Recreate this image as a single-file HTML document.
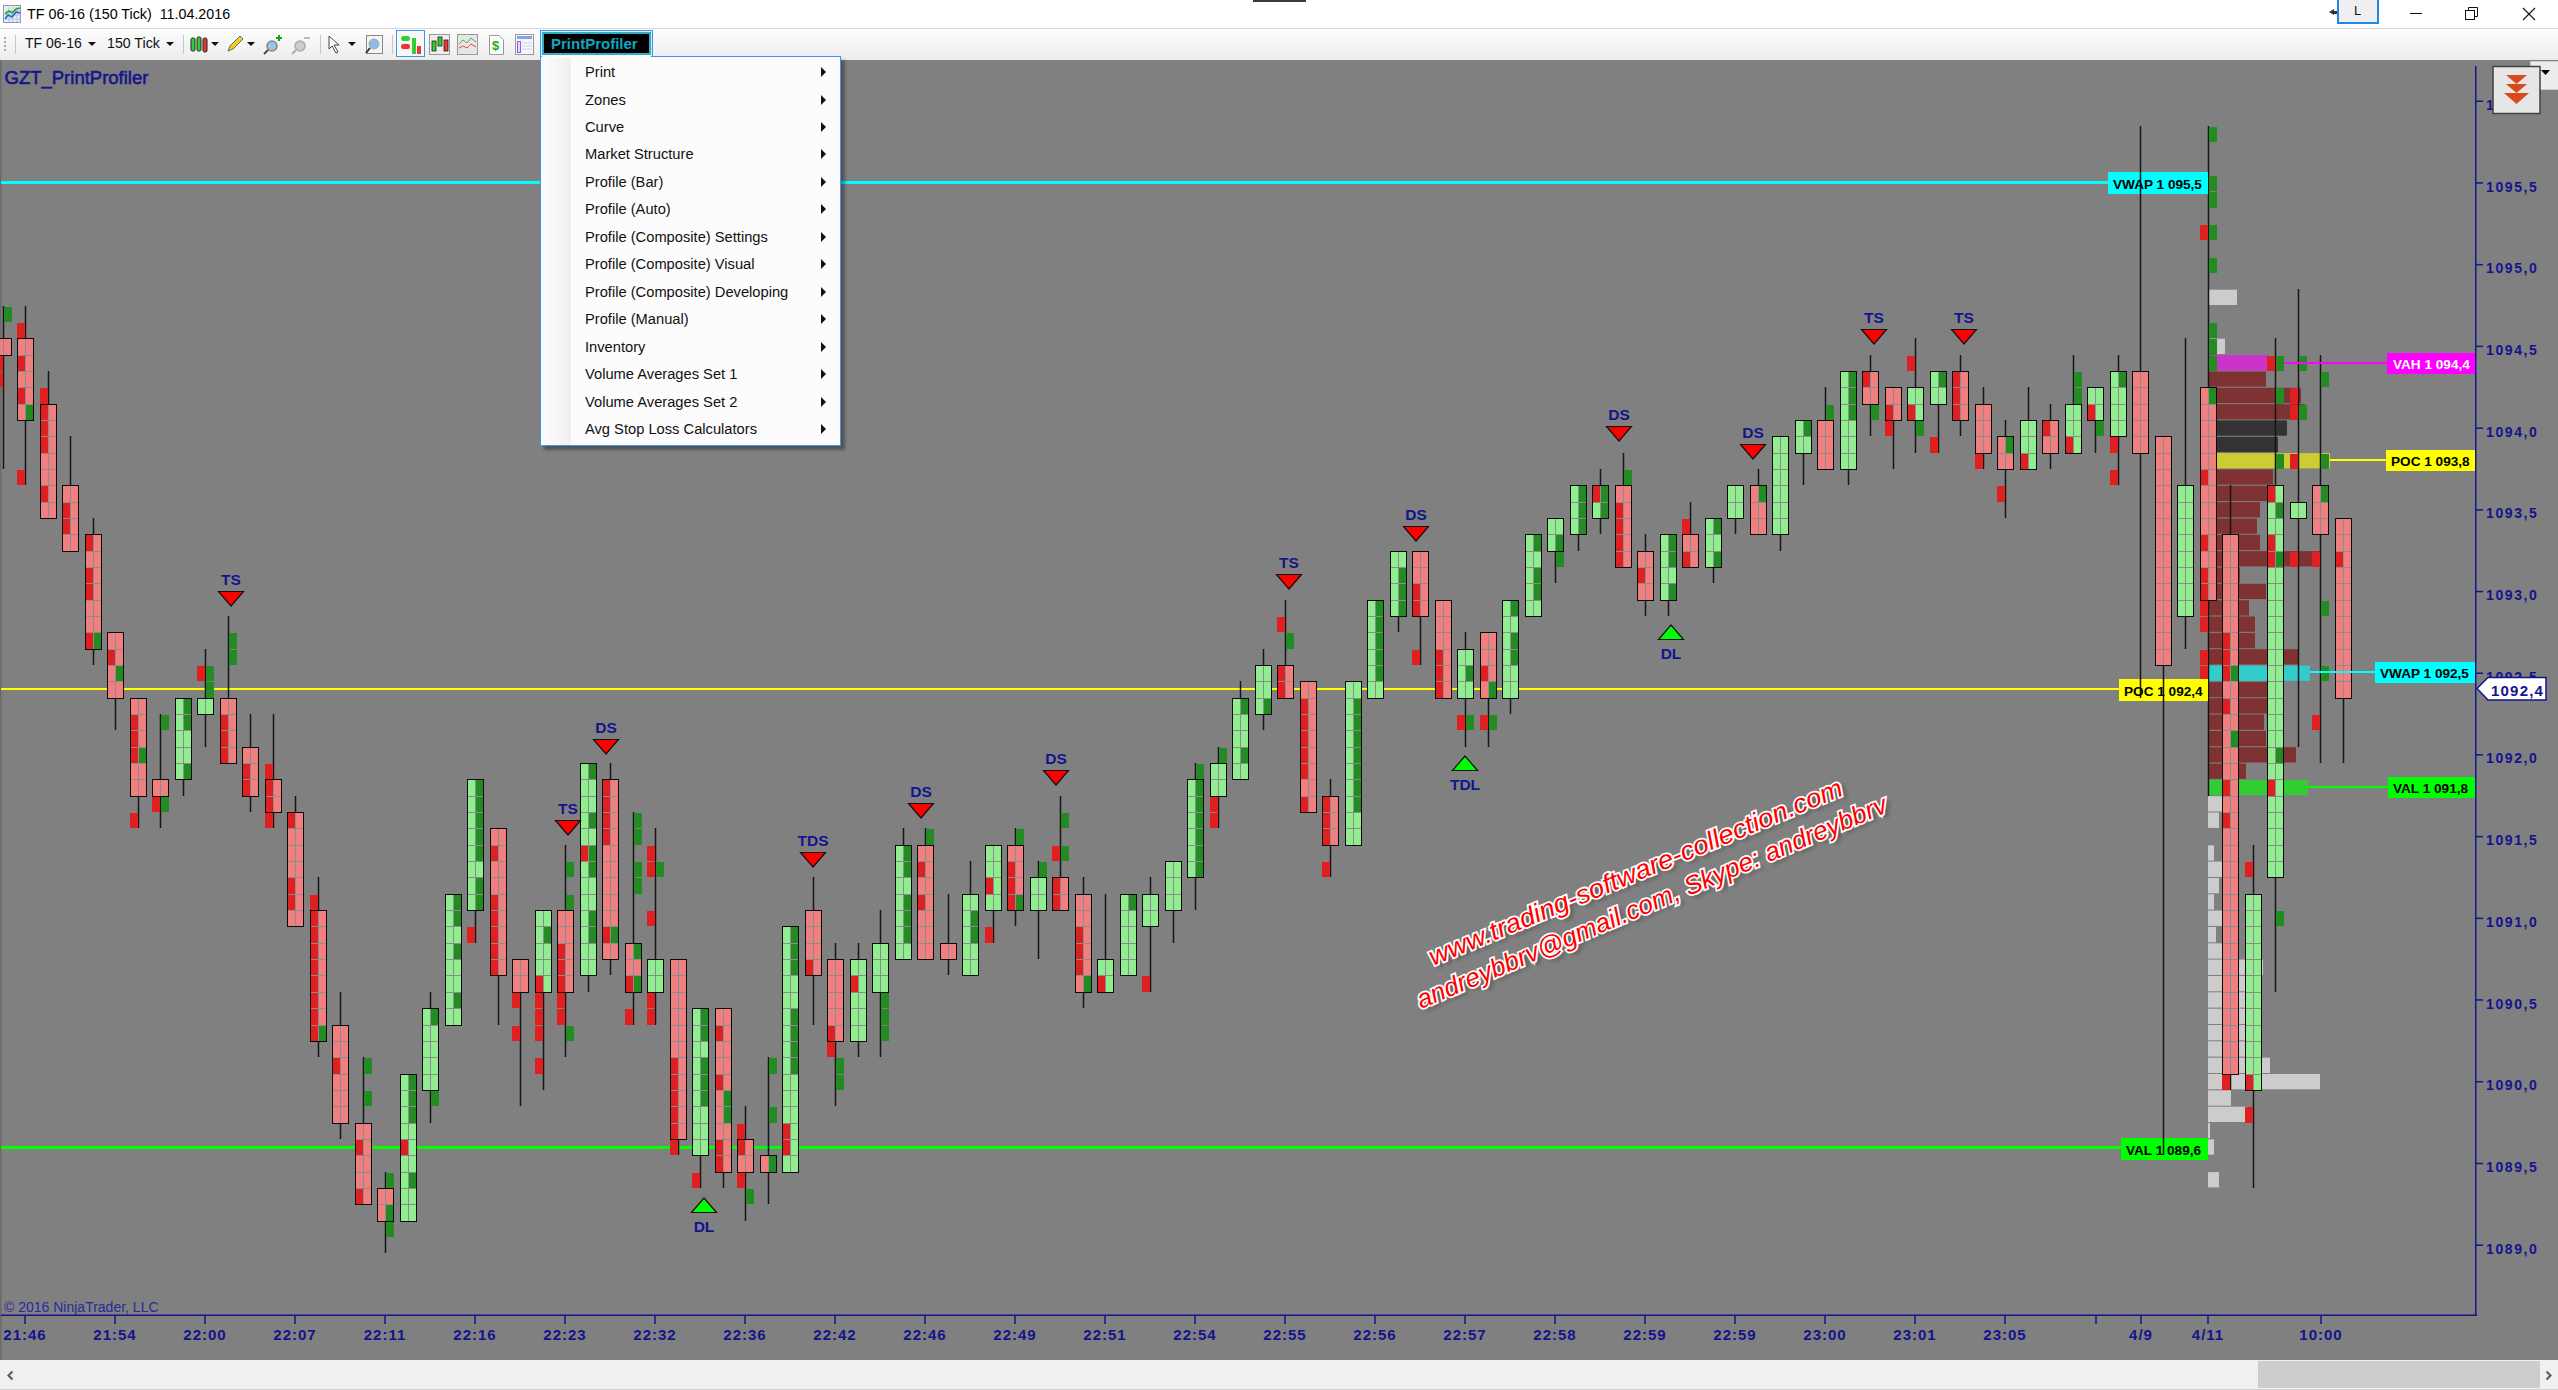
<!DOCTYPE html>
<html><head><meta charset="utf-8"><style>
*{margin:0;padding:0;box-sizing:border-box}
html,body{width:2558px;height:1390px;overflow:hidden;background:#fff;font-family:"Liberation Sans",sans-serif}
.abs{position:absolute}
#title{left:0;top:0;width:2558px;height:29px;background:#fff;border-bottom:1px solid #d6d6d6}
#tb{left:0;top:29px;width:2558px;height:31px;background:linear-gradient(#fdfdfd,#ececec)}
#chart{left:0;top:60px;width:2558px;height:1300px;background:#808080}
#sb{left:0;top:1360px;width:2558px;height:30px;background:#f0f0f0;border-bottom:1px solid #d0d0d0}
.mk{font:bold 15.5px "Liberation Sans",sans-serif;fill:#14148c}
.pl{font:bold 14px "Liberation Sans",sans-serif;fill:#14148c;letter-spacing:1.6px}
.tl{font:bold 15px "Liberation Sans",sans-serif;fill:#14148c;letter-spacing:1px}
.lb{font:bold 13.6px "Liberation Sans",sans-serif}
#menu{left:540px;top:56px;width:301px;height:390px;background:#fcfcfc;border:1.5px solid #3c96f0;box-shadow:4px 4px 3px rgba(0,0,0,0.35)}
#gut{left:0;top:0;width:30px;height:100%;background:linear-gradient(90deg,#fdfdfd,#efefef)}
.mi{position:absolute;left:44px;font-size:14.7px;line-height:20px;color:#111;white-space:nowrap}
.ar{position:absolute;left:280px;width:0;height:0;border-top:5px solid transparent;border-bottom:5px solid transparent;border-left:5px solid #111}
</style></head><body>
<div id="title" class="abs">
 <svg class="abs" style="left:3px;top:5px" width="19" height="19" viewBox="0 0 19 19"><rect x="0.5" y="0.5" width="17" height="17" fill="#e8ecf4" stroke="#8a9ab8"/><path d="M2 6h15M2 10h15M2 14h15M6 2v15M10 2v15M14 2v15" stroke="#b8c4dc" stroke-width="1"/><path d="M2 9 L6 6 L9 8 L13 4 L17 3" stroke="#22aa22" stroke-width="1.6" fill="none"/><path d="M2 14 L5 10 L9 12 L13 7 L17 8" stroke="#2266cc" stroke-width="1.6" fill="none"/></svg>
 <div class="abs" style="left:27px;top:5px;font-size:14.3px;line-height:18px;color:#000;white-space:pre" id="ttxt">TF 06-16 (150 Tick)  11.04.2016</div>
 <div class="abs" style="left:1253px;top:0;width:53px;height:2px;background:#3a3a3a"></div>
 <div class="abs" style="left:2329px;top:9px;width:0;height:0;border-top:3.5px solid transparent;border-bottom:3.5px solid transparent;border-right:5px solid #333"></div>
 <div class="abs" style="left:2333px;top:11px;width:4px;height:3px;background:#333"></div>
 <div class="abs" style="left:2337px;top:0;width:42px;height:24px;border:2px solid #1e88e5;border-top:none;background:#efefef"></div>
 <div class="abs" style="left:2354px;top:3px;font-size:13px;line-height:15px;color:#111">L</div>
 <div class="abs" style="left:2410px;top:13px;width:12px;height:1px;background:#111"></div>
 <svg class="abs" style="left:2465px;top:7px" width="14" height="14"><rect x="0.5" y="3.5" width="9" height="9" fill="none" stroke="#111"/><path d="M3.5 3.5 V0.5 H12.5 V9.5 H9.5" fill="none" stroke="#111"/></svg>
 <svg class="abs" style="left:2522px;top:7px" width="14" height="14"><path d="M1 1 L13 13 M13 1 L1 13" stroke="#111" stroke-width="1.1"/></svg>
</div>
<div id="tb" class="abs">
 <div class="abs" style="left:4px;top:8px;width:2px;height:16px;background:repeating-linear-gradient(#aaa 0 2px,transparent 2px 4px)"></div>
 <div class="abs" style="left:15px;top:6px;width:1px;height:19px;background:#c8c8c8"></div>
 <div class="abs" style="left:25px;top:5px;font-size:14px;line-height:18px;color:#111;white-space:nowrap">TF 06-16</div>
 <div class="abs" style="left:88px;top:13px;border-left:4px solid transparent;border-right:4px solid transparent;border-top:4px solid #111"></div>
 <div class="abs" style="left:107px;top:5px;font-size:14.2px;line-height:18px;color:#111;white-space:nowrap">150 Tick</div>
 <div class="abs" style="left:166px;top:13px;border-left:4px solid transparent;border-right:4px solid transparent;border-top:4px solid #111"></div>
 <div class="abs" style="left:183px;top:6px;width:1px;height:19px;background:#c8c8c8"></div>
 <svg class="abs" style="left:189px;top:5px" width="22" height="22"><rect x="2" y="4" width="4" height="13" rx="1.5" fill="#3c3" stroke="#222"/><rect x="8" y="3" width="4" height="14" rx="1.5" fill="#3c3" stroke="#222"/><rect x="14" y="4" width="4" height="14" rx="1.5" fill="#e33" stroke="#222"/></svg>
 <div class="abs" style="left:211px;top:13px;border-left:4px solid transparent;border-right:4px solid transparent;border-top:4px solid #111"></div>
 <svg class="abs" style="left:225px;top:5px" width="20" height="20"><path d="M3 17 L5 12 L15 2 L18 5 L8 15 Z" fill="#f0d020" stroke="#666"/></svg>
 <div class="abs" style="left:247px;top:13px;border-left:4px solid transparent;border-right:4px solid transparent;border-top:4px solid #111"></div>
 <svg class="abs" style="left:262px;top:5px" width="22" height="22"><circle cx="10" cy="12" r="5" fill="#9cc4e8" stroke="#888" stroke-width="1.5"/><path d="M6 16 L2 20" stroke="#444" stroke-width="2"/><path d="M14 4h6M17 1v6" stroke="#1a1" stroke-width="2"/></svg>
 <svg class="abs" style="left:290px;top:5px" width="22" height="22"><circle cx="10" cy="12" r="5" fill="#ccc" stroke="#aaa" stroke-width="1.5"/><path d="M6 16 L2 20" stroke="#aaa" stroke-width="2"/><path d="M14 4h6" stroke="#bbb" stroke-width="2"/></svg>
 <div class="abs" style="left:320px;top:6px;width:1px;height:19px;background:#c8c8c8"></div>
 <svg class="abs" style="left:327px;top:5px" width="20" height="22"><path d="M2 2 L2 15 L5 12 L9 19 L11 18 L7 11 L12 11 Z" fill="#fff" stroke="#444"/></svg>
 <div class="abs" style="left:348px;top:13px;border-left:4px solid transparent;border-right:4px solid transparent;border-top:4px solid #111"></div>
 <svg class="abs" style="left:364px;top:5px" width="20" height="22"><rect x="2.5" y="1.5" width="16" height="18" fill="#f4f4f4" stroke="#888"/><circle cx="10" cy="10" r="5" fill="#8cbce8" stroke="#aaa"/><path d="M6 14 L2 19" stroke="#333" stroke-width="2"/></svg>
 <div class="abs" style="left:392px;top:6px;width:1px;height:19px;background:#c8c8c8"></div>
 <div class="abs" style="left:396px;top:1px;width:29px;height:27px;border:1.5px solid #3c96f0;background:#f8f8f8"></div>
 <svg class="abs" style="left:399px;top:5px" width="24" height="22"><path d="M2 5h12M2 10h16M2 15h16" stroke="#ddd"/><rect x="2" y="2" width="9" height="5" rx="2.5" fill="#3c3"/><rect x="2" y="10" width="9" height="5" rx="2.5" fill="#e33"/><rect x="13" y="4" width="4" height="16" fill="#3c3"/><rect x="18" y="12" width="4" height="8" fill="#e33"/></svg>
 <svg class="abs" style="left:429px;top:5px" width="22" height="22"><rect x="0.5" y="0.5" width="20" height="20" fill="#eee" stroke="#999"/><rect x="3" y="7" width="4" height="10" fill="#3c3" stroke="#222" stroke-width="0.8"/><rect x="9" y="3" width="4" height="9" fill="#3c3" stroke="#222" stroke-width="0.8"/><rect x="15" y="6" width="4" height="11" fill="#e33" stroke="#222" stroke-width="0.8"/></svg>
 <svg class="abs" style="left:457px;top:5px" width="22" height="22"><rect x="0.5" y="0.5" width="20" height="20" fill="#e6e6e6" stroke="#999"/><path d="M2 10 L6 6 L10 9 L14 4 L19 8" stroke="#4b4" fill="none"/><path d="M2 14 L6 12 L10 14 L14 10 L19 13" stroke="#e44" fill="none"/></svg>
 <svg class="abs" style="left:488px;top:5px" width="18" height="22"><path d="M1.5 1.5 H11 L15.5 6 V20.5 H1.5 Z" fill="#fff" stroke="#999"/><text x="4" y="16" font-size="13" font-weight="bold" fill="#2a2" font-family="Liberation Sans">$</text></svg>
 <svg class="abs" style="left:515px;top:5px" width="20" height="22"><rect x="0.5" y="0.5" width="18" height="20" fill="#f4f6fa" stroke="#999"/><rect x="2" y="2" width="15" height="3" fill="#7aa8e8"/><rect x="2.5" y="7.5" width="3" height="11" fill="#e8d8ff" stroke="#9060e0"/><path d="M7 9h10M7 12h10M7 15h10" stroke="#cdd"/></svg>
 <div class="abs" style="left:540px;top:1px;width:113px;height:28px;border:1.5px solid #3c96f0;border-bottom:none;background:#f8f8f8"></div>
 <div class="abs" style="left:544px;top:5px;width:105px;height:19px;background:#000;box-shadow:0 0 1px 2px rgba(16,160,190,0.85)"></div>
 <div class="abs" style="left:551px;top:5px;font-size:15px;line-height:19px;font-weight:bold;color:#12a6c0;white-space:nowrap">PrintProfiler</div>
</div>
<div id="chart" class="abs"></div>
<svg class="abs" style="left:0;top:0" width="2558" height="1390">
 <rect x="0" y="60" width="1.5" height="1300" fill="#6a6a6a"/>
 <rect x="1" y="181" width="2107" height="3" fill="#00ffff"/>
 <rect x="1" y="688" width="2118" height="2" fill="#ffff00"/>
 <rect x="1" y="1146" width="2120" height="3" fill="#00ff00"/>
 <rect x="2208" y="289.7" width="29" height="15.3" fill="#cccccc"/><rect x="2208" y="338.7" width="17" height="15.3" fill="#cccccc"/><rect x="2208" y="355.1" width="60" height="15.3" fill="#cc33cc"/><rect x="2208" y="371.4" width="58" height="15.3" fill="#7f3232"/><rect x="2208" y="387.8" width="93" height="15.3" fill="#7f3232"/><rect x="2208" y="404.1" width="97" height="15.3" fill="#7f3232"/><rect x="2208" y="420.4" width="79" height="15.3" fill="#333333"/><rect x="2208" y="436.8" width="70" height="15.3" fill="#333333"/><rect x="2208" y="453.1" width="122" height="15.3" fill="#cccc33"/><rect x="2208" y="469.4" width="65" height="15.3" fill="#7f3232"/><rect x="2208" y="485.8" width="61" height="15.3" fill="#7f3232"/><rect x="2208" y="502.1" width="52" height="15.3" fill="#7f3232"/><rect x="2208" y="518.5" width="49" height="15.3" fill="#7f3232"/><rect x="2208" y="534.8" width="52" height="15.3" fill="#7f3232"/><rect x="2208" y="551.1" width="112" height="15.3" fill="#7f3232"/><rect x="2208" y="567.5" width="32" height="15.3" fill="#7f3232"/><rect x="2208" y="583.8" width="58" height="15.3" fill="#7f3232"/><rect x="2208" y="600.2" width="41" height="15.3" fill="#7f3232"/><rect x="2208" y="616.5" width="47" height="15.3" fill="#7f3232"/><rect x="2208" y="632.9" width="47" height="15.3" fill="#7f3232"/><rect x="2208" y="649.2" width="90" height="15.3" fill="#7f3232"/><rect x="2208" y="665.5" width="102" height="15.3" fill="#33cccc"/><rect x="2208" y="681.9" width="60" height="15.3" fill="#7f3232"/><rect x="2208" y="698.2" width="60" height="15.3" fill="#7f3232"/><rect x="2208" y="714.5" width="56" height="15.3" fill="#7f3232"/><rect x="2208" y="730.9" width="58" height="15.3" fill="#7f3232"/><rect x="2208" y="747.2" width="88" height="15.3" fill="#7f3232"/><rect x="2208" y="763.6" width="38" height="15.3" fill="#7f3232"/><rect x="2208" y="779.9" width="100" height="15.3" fill="#33cc33"/><rect x="2208" y="796.2" width="14" height="15.3" fill="#cccccc"/><rect x="2208" y="812.6" width="11" height="15.3" fill="#cccccc"/><rect x="2208" y="845.3" width="6" height="15.3" fill="#cccccc"/><rect x="2208" y="861.6" width="14" height="15.3" fill="#cccccc"/><rect x="2208" y="878.0" width="11" height="15.3" fill="#cccccc"/><rect x="2208" y="894.3" width="6" height="15.3" fill="#cccccc"/><rect x="2208" y="910.6" width="31" height="15.3" fill="#cccccc"/><rect x="2208" y="927.0" width="8" height="15.3" fill="#cccccc"/><rect x="2208" y="943.3" width="14" height="15.3" fill="#cccccc"/><rect x="2208" y="959.6" width="55" height="15.3" fill="#cccccc"/><rect x="2208" y="976.0" width="37" height="15.3" fill="#cccccc"/><rect x="2208" y="992.3" width="37" height="15.3" fill="#cccccc"/><rect x="2208" y="1008.7" width="37" height="15.3" fill="#cccccc"/><rect x="2208" y="1025.0" width="37" height="15.3" fill="#cccccc"/><rect x="2208" y="1041.3" width="37" height="15.3" fill="#cccccc"/><rect x="2208" y="1057.7" width="62" height="15.3" fill="#cccccc"/><rect x="2208" y="1074.0" width="112" height="15.3" fill="#cccccc"/><rect x="2208" y="1090.4" width="23" height="15.3" fill="#cccccc"/><rect x="2208" y="1106.7" width="40" height="15.3" fill="#cccccc"/><rect x="2208" y="1123.0" width="2" height="15.3" fill="#cccccc"/><rect x="2208" y="1139.4" width="6" height="15.3" fill="#cccccc"/><rect x="2208" y="1172.1" width="11" height="15.3" fill="#cccccc"/><rect x="2.75" y="306" width="1.5" height="163" fill="#151515"/><rect x="-4.5" y="338.5" width="16" height="17" fill="#8c8c8c" stroke="#0a0a0a" stroke-width="1"/><rect x="-4" y="339" width="7" height="16" fill="#f08080"/><rect x="4" y="339" width="7" height="16" fill="#f08080"/><rect x="4" y="307" width="8" height="15" fill="#228b22"/><rect x="-5" y="356" width="8" height="15" fill="#e02020"/><rect x="-5" y="372" width="8" height="15" fill="#e02020"/><rect x="24.75" y="306" width="1.5" height="179" fill="#151515"/><rect x="17.5" y="338.5" width="16" height="82" fill="#8c8c8c" stroke="#0a0a0a" stroke-width="1"/><rect x="18" y="339" width="7" height="16" fill="#f08080"/><rect x="26" y="339" width="7" height="16" fill="#f08080"/><rect x="18" y="356" width="7" height="15" fill="#e02020"/><rect x="26" y="356" width="7" height="15" fill="#f08080"/><rect x="18" y="372" width="7" height="15" fill="#f08080"/><rect x="26" y="372" width="7" height="15" fill="#f08080"/><rect x="18" y="388" width="7" height="16" fill="#e02020"/><rect x="26" y="388" width="7" height="16" fill="#f08080"/><rect x="18" y="405" width="7" height="15" fill="#f08080"/><rect x="26" y="405" width="7" height="15" fill="#228b22"/><rect x="17" y="323" width="8" height="15" fill="#e02020"/><rect x="17" y="470" width="8" height="15" fill="#e02020"/><rect x="47.75" y="371" width="1.5" height="147" fill="#151515"/><rect x="40.5" y="404.5" width="16" height="114" fill="#8c8c8c" stroke="#0a0a0a" stroke-width="1"/><rect x="41" y="405" width="7" height="15" fill="#e02020"/><rect x="49" y="405" width="7" height="15" fill="#f08080"/><rect x="41" y="421" width="7" height="15" fill="#e02020"/><rect x="49" y="421" width="7" height="15" fill="#f08080"/><rect x="41" y="437" width="7" height="16" fill="#e02020"/><rect x="49" y="437" width="7" height="16" fill="#f08080"/><rect x="41" y="454" width="7" height="15" fill="#f08080"/><rect x="49" y="454" width="7" height="15" fill="#f08080"/><rect x="41" y="470" width="7" height="15" fill="#f08080"/><rect x="49" y="470" width="7" height="15" fill="#f08080"/><rect x="41" y="486" width="7" height="16" fill="#e02020"/><rect x="49" y="486" width="7" height="16" fill="#f08080"/><rect x="41" y="503" width="7" height="15" fill="#f08080"/><rect x="49" y="503" width="7" height="15" fill="#f08080"/><rect x="40" y="388" width="8" height="16" fill="#e02020"/><rect x="69.75" y="436" width="1.5" height="115" fill="#151515"/><rect x="62.5" y="485.5" width="16" height="66" fill="#8c8c8c" stroke="#0a0a0a" stroke-width="1"/><rect x="63" y="486" width="7" height="16" fill="#f08080"/><rect x="71" y="486" width="7" height="16" fill="#f08080"/><rect x="63" y="503" width="7" height="15" fill="#e02020"/><rect x="71" y="503" width="7" height="15" fill="#f08080"/><rect x="63" y="519" width="7" height="15" fill="#e02020"/><rect x="71" y="519" width="7" height="15" fill="#f08080"/><rect x="63" y="535" width="7" height="16" fill="#f08080"/><rect x="71" y="535" width="7" height="16" fill="#f08080"/><rect x="92.75" y="518" width="1.5" height="147" fill="#151515"/><rect x="85.5" y="534.5" width="16" height="115" fill="#8c8c8c" stroke="#0a0a0a" stroke-width="1"/><rect x="86" y="535" width="7" height="16" fill="#e02020"/><rect x="94" y="535" width="7" height="16" fill="#f08080"/><rect x="86" y="552" width="7" height="15" fill="#f08080"/><rect x="94" y="552" width="7" height="15" fill="#f08080"/><rect x="86" y="568" width="7" height="15" fill="#e02020"/><rect x="94" y="568" width="7" height="15" fill="#f08080"/><rect x="86" y="584" width="7" height="16" fill="#e02020"/><rect x="94" y="584" width="7" height="16" fill="#f08080"/><rect x="86" y="601" width="7" height="15" fill="#f08080"/><rect x="94" y="601" width="7" height="15" fill="#f08080"/><rect x="86" y="617" width="7" height="15" fill="#f08080"/><rect x="94" y="617" width="7" height="15" fill="#f08080"/><rect x="86" y="633" width="7" height="16" fill="#e02020"/><rect x="94" y="633" width="7" height="16" fill="#228b22"/><rect x="114.75" y="632" width="1.5" height="98" fill="#151515"/><rect x="107.5" y="632.5" width="16" height="66" fill="#8c8c8c" stroke="#0a0a0a" stroke-width="1"/><rect x="108" y="633" width="7" height="16" fill="#f08080"/><rect x="116" y="633" width="7" height="16" fill="#f08080"/><rect x="108" y="650" width="7" height="15" fill="#e02020"/><rect x="116" y="650" width="7" height="15" fill="#f08080"/><rect x="108" y="666" width="7" height="15" fill="#f08080"/><rect x="116" y="666" width="7" height="15" fill="#228b22"/><rect x="108" y="682" width="7" height="16" fill="#f08080"/><rect x="116" y="682" width="7" height="16" fill="#f08080"/><rect x="137.75" y="698" width="1.5" height="130" fill="#151515"/><rect x="130.5" y="698.5" width="16" height="98" fill="#8c8c8c" stroke="#0a0a0a" stroke-width="1"/><rect x="131" y="699" width="7" height="15" fill="#f08080"/><rect x="139" y="699" width="7" height="15" fill="#f08080"/><rect x="131" y="715" width="7" height="15" fill="#e02020"/><rect x="139" y="715" width="7" height="15" fill="#f08080"/><rect x="131" y="731" width="7" height="16" fill="#e02020"/><rect x="139" y="731" width="7" height="16" fill="#f08080"/><rect x="131" y="748" width="7" height="15" fill="#e02020"/><rect x="139" y="748" width="7" height="15" fill="#228b22"/><rect x="131" y="764" width="7" height="15" fill="#f08080"/><rect x="139" y="764" width="7" height="15" fill="#f08080"/><rect x="131" y="780" width="7" height="16" fill="#f08080"/><rect x="139" y="780" width="7" height="16" fill="#f08080"/><rect x="130" y="813" width="8" height="15" fill="#e02020"/><rect x="159.75" y="714" width="1.5" height="114" fill="#151515"/><rect x="152.5" y="779.5" width="16" height="17" fill="#8c8c8c" stroke="#0a0a0a" stroke-width="1"/><rect x="153" y="780" width="7" height="16" fill="#f08080"/><rect x="161" y="780" width="7" height="16" fill="#f08080"/><rect x="161" y="715" width="8" height="15" fill="#228b22"/><rect x="152" y="797" width="8" height="15" fill="#e02020"/><rect x="161" y="797" width="8" height="15" fill="#228b22"/><rect x="182.75" y="698" width="1.5" height="98" fill="#151515"/><rect x="175.5" y="698.5" width="16" height="81" fill="#8c8c8c" stroke="#0a0a0a" stroke-width="1"/><rect x="176" y="699" width="7" height="15" fill="#90ee90"/><rect x="184" y="699" width="7" height="15" fill="#228b22"/><rect x="176" y="715" width="7" height="15" fill="#90ee90"/><rect x="184" y="715" width="7" height="15" fill="#228b22"/><rect x="176" y="731" width="7" height="16" fill="#90ee90"/><rect x="184" y="731" width="7" height="16" fill="#90ee90"/><rect x="176" y="748" width="7" height="15" fill="#90ee90"/><rect x="184" y="748" width="7" height="15" fill="#90ee90"/><rect x="176" y="764" width="7" height="15" fill="#90ee90"/><rect x="184" y="764" width="7" height="15" fill="#228b22"/><rect x="204.75" y="649" width="1.5" height="98" fill="#151515"/><rect x="197.5" y="698.5" width="16" height="16" fill="#8c8c8c" stroke="#0a0a0a" stroke-width="1"/><rect x="198" y="699" width="7" height="15" fill="#90ee90"/><rect x="206" y="699" width="7" height="15" fill="#90ee90"/><rect x="197" y="666" width="8" height="15" fill="#e02020"/><rect x="206" y="666" width="8" height="15" fill="#228b22"/><rect x="206" y="682" width="8" height="16" fill="#228b22"/><rect x="227.75" y="616" width="1.5" height="147" fill="#151515"/><rect x="220.5" y="698.5" width="16" height="65" fill="#8c8c8c" stroke="#0a0a0a" stroke-width="1"/><rect x="221" y="699" width="7" height="15" fill="#f08080"/><rect x="229" y="699" width="7" height="15" fill="#f08080"/><rect x="221" y="715" width="7" height="15" fill="#e02020"/><rect x="229" y="715" width="7" height="15" fill="#f08080"/><rect x="221" y="731" width="7" height="16" fill="#e02020"/><rect x="229" y="731" width="7" height="16" fill="#f08080"/><rect x="221" y="748" width="7" height="15" fill="#e02020"/><rect x="229" y="748" width="7" height="15" fill="#f08080"/><rect x="229" y="633" width="8" height="16" fill="#228b22"/><rect x="229" y="650" width="8" height="15" fill="#228b22"/><rect x="249.75" y="714" width="1.5" height="98" fill="#151515"/><rect x="242.5" y="747.5" width="16" height="49" fill="#8c8c8c" stroke="#0a0a0a" stroke-width="1"/><rect x="243" y="748" width="7" height="15" fill="#f08080"/><rect x="251" y="748" width="7" height="15" fill="#f08080"/><rect x="243" y="764" width="7" height="15" fill="#e02020"/><rect x="251" y="764" width="7" height="15" fill="#f08080"/><rect x="243" y="780" width="7" height="16" fill="#e02020"/><rect x="251" y="780" width="7" height="16" fill="#f08080"/><rect x="272.75" y="714" width="1.5" height="114" fill="#151515"/><rect x="265.5" y="779.5" width="16" height="33" fill="#8c8c8c" stroke="#0a0a0a" stroke-width="1"/><rect x="266" y="780" width="7" height="16" fill="#e02020"/><rect x="274" y="780" width="7" height="16" fill="#f08080"/><rect x="266" y="797" width="7" height="15" fill="#e02020"/><rect x="274" y="797" width="7" height="15" fill="#f08080"/><rect x="265" y="764" width="8" height="15" fill="#e02020"/><rect x="265" y="813" width="8" height="15" fill="#e02020"/><rect x="294.75" y="796" width="1.5" height="130" fill="#151515"/><rect x="287.5" y="812.5" width="16" height="114" fill="#8c8c8c" stroke="#0a0a0a" stroke-width="1"/><rect x="288" y="813" width="7" height="15" fill="#e02020"/><rect x="296" y="813" width="7" height="15" fill="#f08080"/><rect x="288" y="829" width="7" height="16" fill="#f08080"/><rect x="296" y="829" width="7" height="16" fill="#f08080"/><rect x="288" y="846" width="7" height="15" fill="#f08080"/><rect x="296" y="846" width="7" height="15" fill="#f08080"/><rect x="288" y="862" width="7" height="15" fill="#f08080"/><rect x="296" y="862" width="7" height="15" fill="#f08080"/><rect x="288" y="878" width="7" height="16" fill="#e02020"/><rect x="296" y="878" width="7" height="16" fill="#f08080"/><rect x="288" y="895" width="7" height="15" fill="#e02020"/><rect x="296" y="895" width="7" height="15" fill="#f08080"/><rect x="288" y="911" width="7" height="15" fill="#f08080"/><rect x="296" y="911" width="7" height="15" fill="#f08080"/><rect x="317.75" y="877" width="1.5" height="180" fill="#151515"/><rect x="310.5" y="910.5" width="16" height="131" fill="#8c8c8c" stroke="#0a0a0a" stroke-width="1"/><rect x="311" y="911" width="7" height="15" fill="#e02020"/><rect x="319" y="911" width="7" height="15" fill="#f08080"/><rect x="311" y="927" width="7" height="16" fill="#e02020"/><rect x="319" y="927" width="7" height="16" fill="#f08080"/><rect x="311" y="944" width="7" height="15" fill="#e02020"/><rect x="319" y="944" width="7" height="15" fill="#f08080"/><rect x="311" y="960" width="7" height="15" fill="#e02020"/><rect x="319" y="960" width="7" height="15" fill="#f08080"/><rect x="311" y="976" width="7" height="16" fill="#e02020"/><rect x="319" y="976" width="7" height="16" fill="#f08080"/><rect x="311" y="993" width="7" height="15" fill="#e02020"/><rect x="319" y="993" width="7" height="15" fill="#f08080"/><rect x="311" y="1009" width="7" height="16" fill="#e02020"/><rect x="319" y="1009" width="7" height="16" fill="#f08080"/><rect x="311" y="1026" width="7" height="15" fill="#e02020"/><rect x="319" y="1026" width="7" height="15" fill="#228b22"/><rect x="310" y="895" width="8" height="15" fill="#e02020"/><rect x="339.75" y="992" width="1.5" height="147" fill="#151515"/><rect x="332.5" y="1025.5" width="16" height="98" fill="#8c8c8c" stroke="#0a0a0a" stroke-width="1"/><rect x="333" y="1026" width="7" height="15" fill="#f08080"/><rect x="341" y="1026" width="7" height="15" fill="#f08080"/><rect x="333" y="1042" width="7" height="15" fill="#f08080"/><rect x="341" y="1042" width="7" height="15" fill="#f08080"/><rect x="333" y="1058" width="7" height="16" fill="#e02020"/><rect x="341" y="1058" width="7" height="16" fill="#f08080"/><rect x="333" y="1075" width="7" height="15" fill="#f08080"/><rect x="341" y="1075" width="7" height="15" fill="#f08080"/><rect x="333" y="1091" width="7" height="15" fill="#f08080"/><rect x="341" y="1091" width="7" height="15" fill="#f08080"/><rect x="333" y="1107" width="7" height="16" fill="#f08080"/><rect x="341" y="1107" width="7" height="16" fill="#f08080"/><rect x="362.75" y="1057" width="1.5" height="147" fill="#151515"/><rect x="355.5" y="1123.5" width="16" height="81" fill="#8c8c8c" stroke="#0a0a0a" stroke-width="1"/><rect x="356" y="1124" width="7" height="15" fill="#f08080"/><rect x="364" y="1124" width="7" height="15" fill="#f08080"/><rect x="356" y="1140" width="7" height="15" fill="#e02020"/><rect x="364" y="1140" width="7" height="15" fill="#f08080"/><rect x="356" y="1156" width="7" height="16" fill="#f08080"/><rect x="364" y="1156" width="7" height="16" fill="#f08080"/><rect x="356" y="1173" width="7" height="15" fill="#f08080"/><rect x="364" y="1173" width="7" height="15" fill="#f08080"/><rect x="356" y="1189" width="7" height="15" fill="#e02020"/><rect x="364" y="1189" width="7" height="15" fill="#f08080"/><rect x="364" y="1058" width="8" height="16" fill="#228b22"/><rect x="364" y="1091" width="8" height="15" fill="#228b22"/><rect x="384.75" y="1172" width="1.5" height="81" fill="#151515"/><rect x="377.5" y="1188.5" width="16" height="33" fill="#8c8c8c" stroke="#0a0a0a" stroke-width="1"/><rect x="378" y="1189" width="7" height="15" fill="#f08080"/><rect x="386" y="1189" width="7" height="15" fill="#f08080"/><rect x="378" y="1205" width="7" height="16" fill="#f08080"/><rect x="386" y="1205" width="7" height="16" fill="#228b22"/><rect x="386" y="1173" width="8" height="15" fill="#228b22"/><rect x="386" y="1222" width="8" height="15" fill="#228b22"/><rect x="407.75" y="1074" width="1.5" height="147" fill="#151515"/><rect x="400.5" y="1074.5" width="16" height="147" fill="#8c8c8c" stroke="#0a0a0a" stroke-width="1"/><rect x="401" y="1075" width="7" height="15" fill="#90ee90"/><rect x="409" y="1075" width="7" height="15" fill="#228b22"/><rect x="401" y="1091" width="7" height="15" fill="#90ee90"/><rect x="409" y="1091" width="7" height="15" fill="#228b22"/><rect x="401" y="1107" width="7" height="16" fill="#90ee90"/><rect x="409" y="1107" width="7" height="16" fill="#228b22"/><rect x="401" y="1124" width="7" height="15" fill="#90ee90"/><rect x="409" y="1124" width="7" height="15" fill="#90ee90"/><rect x="401" y="1140" width="7" height="15" fill="#e02020"/><rect x="409" y="1140" width="7" height="15" fill="#90ee90"/><rect x="401" y="1156" width="7" height="16" fill="#90ee90"/><rect x="409" y="1156" width="7" height="16" fill="#90ee90"/><rect x="401" y="1173" width="7" height="15" fill="#90ee90"/><rect x="409" y="1173" width="7" height="15" fill="#228b22"/><rect x="401" y="1189" width="7" height="15" fill="#90ee90"/><rect x="409" y="1189" width="7" height="15" fill="#90ee90"/><rect x="401" y="1205" width="7" height="16" fill="#90ee90"/><rect x="409" y="1205" width="7" height="16" fill="#90ee90"/><rect x="429.75" y="992" width="1.5" height="131" fill="#151515"/><rect x="422.5" y="1008.5" width="16" height="82" fill="#8c8c8c" stroke="#0a0a0a" stroke-width="1"/><rect x="423" y="1009" width="7" height="16" fill="#90ee90"/><rect x="431" y="1009" width="7" height="16" fill="#228b22"/><rect x="423" y="1026" width="7" height="15" fill="#90ee90"/><rect x="431" y="1026" width="7" height="15" fill="#90ee90"/><rect x="423" y="1042" width="7" height="15" fill="#90ee90"/><rect x="431" y="1042" width="7" height="15" fill="#90ee90"/><rect x="423" y="1058" width="7" height="16" fill="#90ee90"/><rect x="431" y="1058" width="7" height="16" fill="#90ee90"/><rect x="423" y="1075" width="7" height="15" fill="#90ee90"/><rect x="431" y="1075" width="7" height="15" fill="#90ee90"/><rect x="431" y="1091" width="8" height="15" fill="#228b22"/><rect x="452.75" y="894" width="1.5" height="131" fill="#151515"/><rect x="445.5" y="894.5" width="16" height="131" fill="#8c8c8c" stroke="#0a0a0a" stroke-width="1"/><rect x="446" y="895" width="7" height="15" fill="#90ee90"/><rect x="454" y="895" width="7" height="15" fill="#228b22"/><rect x="446" y="911" width="7" height="15" fill="#90ee90"/><rect x="454" y="911" width="7" height="15" fill="#228b22"/><rect x="446" y="927" width="7" height="16" fill="#90ee90"/><rect x="454" y="927" width="7" height="16" fill="#90ee90"/><rect x="446" y="944" width="7" height="15" fill="#90ee90"/><rect x="454" y="944" width="7" height="15" fill="#228b22"/><rect x="446" y="960" width="7" height="15" fill="#90ee90"/><rect x="454" y="960" width="7" height="15" fill="#90ee90"/><rect x="446" y="976" width="7" height="16" fill="#90ee90"/><rect x="454" y="976" width="7" height="16" fill="#90ee90"/><rect x="446" y="993" width="7" height="15" fill="#90ee90"/><rect x="454" y="993" width="7" height="15" fill="#228b22"/><rect x="446" y="1009" width="7" height="16" fill="#90ee90"/><rect x="454" y="1009" width="7" height="16" fill="#90ee90"/><rect x="474.75" y="779" width="1.5" height="164" fill="#151515"/><rect x="467.5" y="779.5" width="16" height="131" fill="#8c8c8c" stroke="#0a0a0a" stroke-width="1"/><rect x="468" y="780" width="7" height="16" fill="#90ee90"/><rect x="476" y="780" width="7" height="16" fill="#228b22"/><rect x="468" y="797" width="7" height="15" fill="#90ee90"/><rect x="476" y="797" width="7" height="15" fill="#228b22"/><rect x="468" y="813" width="7" height="15" fill="#90ee90"/><rect x="476" y="813" width="7" height="15" fill="#228b22"/><rect x="468" y="829" width="7" height="16" fill="#90ee90"/><rect x="476" y="829" width="7" height="16" fill="#228b22"/><rect x="468" y="846" width="7" height="15" fill="#90ee90"/><rect x="476" y="846" width="7" height="15" fill="#228b22"/><rect x="468" y="862" width="7" height="15" fill="#90ee90"/><rect x="476" y="862" width="7" height="15" fill="#90ee90"/><rect x="468" y="878" width="7" height="16" fill="#90ee90"/><rect x="476" y="878" width="7" height="16" fill="#228b22"/><rect x="468" y="895" width="7" height="15" fill="#90ee90"/><rect x="476" y="895" width="7" height="15" fill="#228b22"/><rect x="467" y="927" width="8" height="16" fill="#e02020"/><rect x="497.75" y="828" width="1.5" height="197" fill="#151515"/><rect x="490.5" y="828.5" width="16" height="147" fill="#8c8c8c" stroke="#0a0a0a" stroke-width="1"/><rect x="491" y="829" width="7" height="16" fill="#f08080"/><rect x="499" y="829" width="7" height="16" fill="#f08080"/><rect x="491" y="846" width="7" height="15" fill="#e02020"/><rect x="499" y="846" width="7" height="15" fill="#f08080"/><rect x="491" y="862" width="7" height="15" fill="#f08080"/><rect x="499" y="862" width="7" height="15" fill="#f08080"/><rect x="491" y="878" width="7" height="16" fill="#f08080"/><rect x="499" y="878" width="7" height="16" fill="#f08080"/><rect x="491" y="895" width="7" height="15" fill="#e02020"/><rect x="499" y="895" width="7" height="15" fill="#f08080"/><rect x="491" y="911" width="7" height="15" fill="#e02020"/><rect x="499" y="911" width="7" height="15" fill="#f08080"/><rect x="491" y="927" width="7" height="16" fill="#e02020"/><rect x="499" y="927" width="7" height="16" fill="#f08080"/><rect x="491" y="944" width="7" height="15" fill="#e02020"/><rect x="499" y="944" width="7" height="15" fill="#f08080"/><rect x="491" y="960" width="7" height="15" fill="#e02020"/><rect x="499" y="960" width="7" height="15" fill="#f08080"/><rect x="519.75" y="959" width="1.5" height="147" fill="#151515"/><rect x="512.5" y="959.5" width="16" height="33" fill="#8c8c8c" stroke="#0a0a0a" stroke-width="1"/><rect x="513" y="960" width="7" height="15" fill="#f08080"/><rect x="521" y="960" width="7" height="15" fill="#f08080"/><rect x="513" y="976" width="7" height="16" fill="#f08080"/><rect x="521" y="976" width="7" height="16" fill="#f08080"/><rect x="512" y="993" width="8" height="15" fill="#e02020"/><rect x="512" y="1026" width="8" height="15" fill="#e02020"/><rect x="542.75" y="910" width="1.5" height="180" fill="#151515"/><rect x="535.5" y="910.5" width="16" height="82" fill="#8c8c8c" stroke="#0a0a0a" stroke-width="1"/><rect x="536" y="911" width="7" height="15" fill="#90ee90"/><rect x="544" y="911" width="7" height="15" fill="#90ee90"/><rect x="536" y="927" width="7" height="16" fill="#90ee90"/><rect x="544" y="927" width="7" height="16" fill="#228b22"/><rect x="536" y="944" width="7" height="15" fill="#90ee90"/><rect x="544" y="944" width="7" height="15" fill="#90ee90"/><rect x="536" y="960" width="7" height="15" fill="#90ee90"/><rect x="544" y="960" width="7" height="15" fill="#90ee90"/><rect x="536" y="976" width="7" height="16" fill="#e02020"/><rect x="544" y="976" width="7" height="16" fill="#90ee90"/><rect x="535" y="993" width="8" height="15" fill="#e02020"/><rect x="535" y="1009" width="8" height="16" fill="#e02020"/><rect x="535" y="1026" width="8" height="15" fill="#e02020"/><rect x="535" y="1058" width="8" height="16" fill="#e02020"/><rect x="564.75" y="845" width="1.5" height="212" fill="#151515"/><rect x="557.5" y="910.5" width="16" height="82" fill="#8c8c8c" stroke="#0a0a0a" stroke-width="1"/><rect x="558" y="911" width="7" height="15" fill="#f08080"/><rect x="566" y="911" width="7" height="15" fill="#f08080"/><rect x="558" y="927" width="7" height="16" fill="#f08080"/><rect x="566" y="927" width="7" height="16" fill="#f08080"/><rect x="558" y="944" width="7" height="15" fill="#e02020"/><rect x="566" y="944" width="7" height="15" fill="#f08080"/><rect x="558" y="960" width="7" height="15" fill="#e02020"/><rect x="566" y="960" width="7" height="15" fill="#f08080"/><rect x="558" y="976" width="7" height="16" fill="#e02020"/><rect x="566" y="976" width="7" height="16" fill="#f08080"/><rect x="566" y="862" width="8" height="15" fill="#228b22"/><rect x="566" y="895" width="8" height="15" fill="#228b22"/><rect x="557" y="993" width="8" height="15" fill="#e02020"/><rect x="557" y="1009" width="8" height="16" fill="#e02020"/><rect x="566" y="1026" width="8" height="15" fill="#228b22"/><rect x="587.75" y="763" width="1.5" height="229" fill="#151515"/><rect x="580.5" y="763.5" width="16" height="212" fill="#8c8c8c" stroke="#0a0a0a" stroke-width="1"/><rect x="581" y="764" width="7" height="15" fill="#90ee90"/><rect x="589" y="764" width="7" height="15" fill="#228b22"/><rect x="581" y="780" width="7" height="16" fill="#90ee90"/><rect x="589" y="780" width="7" height="16" fill="#90ee90"/><rect x="581" y="797" width="7" height="15" fill="#90ee90"/><rect x="589" y="797" width="7" height="15" fill="#90ee90"/><rect x="581" y="813" width="7" height="15" fill="#90ee90"/><rect x="589" y="813" width="7" height="15" fill="#228b22"/><rect x="581" y="829" width="7" height="16" fill="#90ee90"/><rect x="589" y="829" width="7" height="16" fill="#90ee90"/><rect x="581" y="846" width="7" height="15" fill="#e02020"/><rect x="589" y="846" width="7" height="15" fill="#228b22"/><rect x="581" y="862" width="7" height="15" fill="#90ee90"/><rect x="589" y="862" width="7" height="15" fill="#228b22"/><rect x="581" y="878" width="7" height="16" fill="#90ee90"/><rect x="589" y="878" width="7" height="16" fill="#90ee90"/><rect x="581" y="895" width="7" height="15" fill="#90ee90"/><rect x="589" y="895" width="7" height="15" fill="#90ee90"/><rect x="581" y="911" width="7" height="15" fill="#90ee90"/><rect x="589" y="911" width="7" height="15" fill="#228b22"/><rect x="581" y="927" width="7" height="16" fill="#90ee90"/><rect x="589" y="927" width="7" height="16" fill="#228b22"/><rect x="581" y="944" width="7" height="15" fill="#90ee90"/><rect x="589" y="944" width="7" height="15" fill="#90ee90"/><rect x="581" y="960" width="7" height="15" fill="#90ee90"/><rect x="589" y="960" width="7" height="15" fill="#90ee90"/><rect x="609.75" y="763" width="1.5" height="212" fill="#151515"/><rect x="602.5" y="779.5" width="16" height="180" fill="#8c8c8c" stroke="#0a0a0a" stroke-width="1"/><rect x="603" y="780" width="7" height="16" fill="#e02020"/><rect x="611" y="780" width="7" height="16" fill="#f08080"/><rect x="603" y="797" width="7" height="15" fill="#e02020"/><rect x="611" y="797" width="7" height="15" fill="#f08080"/><rect x="603" y="813" width="7" height="15" fill="#e02020"/><rect x="611" y="813" width="7" height="15" fill="#f08080"/><rect x="603" y="829" width="7" height="16" fill="#e02020"/><rect x="611" y="829" width="7" height="16" fill="#f08080"/><rect x="603" y="846" width="7" height="15" fill="#f08080"/><rect x="611" y="846" width="7" height="15" fill="#f08080"/><rect x="603" y="862" width="7" height="15" fill="#f08080"/><rect x="611" y="862" width="7" height="15" fill="#f08080"/><rect x="603" y="878" width="7" height="16" fill="#f08080"/><rect x="611" y="878" width="7" height="16" fill="#f08080"/><rect x="603" y="895" width="7" height="15" fill="#f08080"/><rect x="611" y="895" width="7" height="15" fill="#f08080"/><rect x="603" y="911" width="7" height="15" fill="#f08080"/><rect x="611" y="911" width="7" height="15" fill="#f08080"/><rect x="603" y="927" width="7" height="16" fill="#e02020"/><rect x="611" y="927" width="7" height="16" fill="#228b22"/><rect x="603" y="944" width="7" height="15" fill="#f08080"/><rect x="611" y="944" width="7" height="15" fill="#f08080"/><rect x="632.75" y="812" width="1.5" height="213" fill="#151515"/><rect x="625.5" y="943.5" width="16" height="49" fill="#8c8c8c" stroke="#0a0a0a" stroke-width="1"/><rect x="626" y="944" width="7" height="15" fill="#f08080"/><rect x="634" y="944" width="7" height="15" fill="#228b22"/><rect x="626" y="960" width="7" height="15" fill="#f08080"/><rect x="634" y="960" width="7" height="15" fill="#f08080"/><rect x="626" y="976" width="7" height="16" fill="#e02020"/><rect x="634" y="976" width="7" height="16" fill="#228b22"/><rect x="634" y="813" width="8" height="15" fill="#228b22"/><rect x="634" y="829" width="8" height="16" fill="#228b22"/><rect x="634" y="862" width="8" height="15" fill="#228b22"/><rect x="634" y="878" width="8" height="16" fill="#228b22"/><rect x="625" y="1009" width="8" height="16" fill="#e02020"/><rect x="654.75" y="828" width="1.5" height="197" fill="#151515"/><rect x="647.5" y="959.5" width="16" height="33" fill="#8c8c8c" stroke="#0a0a0a" stroke-width="1"/><rect x="648" y="960" width="7" height="15" fill="#90ee90"/><rect x="656" y="960" width="7" height="15" fill="#90ee90"/><rect x="648" y="976" width="7" height="16" fill="#90ee90"/><rect x="656" y="976" width="7" height="16" fill="#90ee90"/><rect x="647" y="846" width="8" height="15" fill="#e02020"/><rect x="647" y="862" width="8" height="15" fill="#e02020"/><rect x="656" y="862" width="8" height="15" fill="#228b22"/><rect x="647" y="911" width="8" height="15" fill="#e02020"/><rect x="647" y="993" width="8" height="15" fill="#e02020"/><rect x="647" y="1009" width="8" height="16" fill="#e02020"/><rect x="677.75" y="959" width="1.5" height="196" fill="#151515"/><rect x="670.5" y="959.5" width="16" height="180" fill="#8c8c8c" stroke="#0a0a0a" stroke-width="1"/><rect x="671" y="960" width="7" height="15" fill="#f08080"/><rect x="679" y="960" width="7" height="15" fill="#f08080"/><rect x="671" y="976" width="7" height="16" fill="#f08080"/><rect x="679" y="976" width="7" height="16" fill="#f08080"/><rect x="671" y="993" width="7" height="15" fill="#f08080"/><rect x="679" y="993" width="7" height="15" fill="#f08080"/><rect x="671" y="1009" width="7" height="16" fill="#f08080"/><rect x="679" y="1009" width="7" height="16" fill="#f08080"/><rect x="671" y="1026" width="7" height="15" fill="#f08080"/><rect x="679" y="1026" width="7" height="15" fill="#f08080"/><rect x="671" y="1042" width="7" height="15" fill="#f08080"/><rect x="679" y="1042" width="7" height="15" fill="#f08080"/><rect x="671" y="1058" width="7" height="16" fill="#e02020"/><rect x="679" y="1058" width="7" height="16" fill="#f08080"/><rect x="671" y="1075" width="7" height="15" fill="#e02020"/><rect x="679" y="1075" width="7" height="15" fill="#f08080"/><rect x="671" y="1091" width="7" height="15" fill="#e02020"/><rect x="679" y="1091" width="7" height="15" fill="#f08080"/><rect x="671" y="1107" width="7" height="16" fill="#e02020"/><rect x="679" y="1107" width="7" height="16" fill="#f08080"/><rect x="671" y="1124" width="7" height="15" fill="#e02020"/><rect x="679" y="1124" width="7" height="15" fill="#f08080"/><rect x="670" y="1140" width="8" height="15" fill="#e02020"/><rect x="699.75" y="1008" width="1.5" height="180" fill="#151515"/><rect x="692.5" y="1008.5" width="16" height="147" fill="#8c8c8c" stroke="#0a0a0a" stroke-width="1"/><rect x="693" y="1009" width="7" height="16" fill="#90ee90"/><rect x="701" y="1009" width="7" height="16" fill="#228b22"/><rect x="693" y="1026" width="7" height="15" fill="#90ee90"/><rect x="701" y="1026" width="7" height="15" fill="#228b22"/><rect x="693" y="1042" width="7" height="15" fill="#90ee90"/><rect x="701" y="1042" width="7" height="15" fill="#90ee90"/><rect x="693" y="1058" width="7" height="16" fill="#90ee90"/><rect x="701" y="1058" width="7" height="16" fill="#228b22"/><rect x="693" y="1075" width="7" height="15" fill="#90ee90"/><rect x="701" y="1075" width="7" height="15" fill="#228b22"/><rect x="693" y="1091" width="7" height="15" fill="#90ee90"/><rect x="701" y="1091" width="7" height="15" fill="#228b22"/><rect x="693" y="1107" width="7" height="16" fill="#90ee90"/><rect x="701" y="1107" width="7" height="16" fill="#90ee90"/><rect x="693" y="1124" width="7" height="15" fill="#90ee90"/><rect x="701" y="1124" width="7" height="15" fill="#90ee90"/><rect x="693" y="1140" width="7" height="15" fill="#90ee90"/><rect x="701" y="1140" width="7" height="15" fill="#90ee90"/><rect x="692" y="1173" width="8" height="15" fill="#e02020"/><rect x="722.75" y="1008" width="1.5" height="180" fill="#151515"/><rect x="715.5" y="1008.5" width="16" height="164" fill="#8c8c8c" stroke="#0a0a0a" stroke-width="1"/><rect x="716" y="1009" width="7" height="16" fill="#f08080"/><rect x="724" y="1009" width="7" height="16" fill="#f08080"/><rect x="716" y="1026" width="7" height="15" fill="#e02020"/><rect x="724" y="1026" width="7" height="15" fill="#f08080"/><rect x="716" y="1042" width="7" height="15" fill="#f08080"/><rect x="724" y="1042" width="7" height="15" fill="#f08080"/><rect x="716" y="1058" width="7" height="16" fill="#f08080"/><rect x="724" y="1058" width="7" height="16" fill="#f08080"/><rect x="716" y="1075" width="7" height="15" fill="#e02020"/><rect x="724" y="1075" width="7" height="15" fill="#f08080"/><rect x="716" y="1091" width="7" height="15" fill="#f08080"/><rect x="724" y="1091" width="7" height="15" fill="#228b22"/><rect x="716" y="1107" width="7" height="16" fill="#f08080"/><rect x="724" y="1107" width="7" height="16" fill="#228b22"/><rect x="716" y="1124" width="7" height="15" fill="#f08080"/><rect x="724" y="1124" width="7" height="15" fill="#f08080"/><rect x="716" y="1140" width="7" height="15" fill="#e02020"/><rect x="724" y="1140" width="7" height="15" fill="#f08080"/><rect x="716" y="1156" width="7" height="16" fill="#e02020"/><rect x="724" y="1156" width="7" height="16" fill="#f08080"/><rect x="744.75" y="1106" width="1.5" height="115" fill="#151515"/><rect x="737.5" y="1139.5" width="16" height="33" fill="#8c8c8c" stroke="#0a0a0a" stroke-width="1"/><rect x="738" y="1140" width="7" height="15" fill="#e02020"/><rect x="746" y="1140" width="7" height="15" fill="#f08080"/><rect x="738" y="1156" width="7" height="16" fill="#f08080"/><rect x="746" y="1156" width="7" height="16" fill="#f08080"/><rect x="737" y="1124" width="8" height="15" fill="#e02020"/><rect x="737" y="1173" width="8" height="15" fill="#e02020"/><rect x="746" y="1189" width="8" height="15" fill="#228b22"/><rect x="767.75" y="1057" width="1.5" height="147" fill="#151515"/><rect x="760.5" y="1155.5" width="16" height="17" fill="#8c8c8c" stroke="#0a0a0a" stroke-width="1"/><rect x="761" y="1156" width="7" height="16" fill="#f08080"/><rect x="769" y="1156" width="7" height="16" fill="#228b22"/><rect x="769" y="1058" width="8" height="16" fill="#228b22"/><rect x="769" y="1107" width="8" height="16" fill="#228b22"/><rect x="789.75" y="926" width="1.5" height="246" fill="#151515"/><rect x="782.5" y="926.5" width="16" height="246" fill="#8c8c8c" stroke="#0a0a0a" stroke-width="1"/><rect x="783" y="927" width="7" height="16" fill="#90ee90"/><rect x="791" y="927" width="7" height="16" fill="#228b22"/><rect x="783" y="944" width="7" height="15" fill="#90ee90"/><rect x="791" y="944" width="7" height="15" fill="#228b22"/><rect x="783" y="960" width="7" height="15" fill="#90ee90"/><rect x="791" y="960" width="7" height="15" fill="#228b22"/><rect x="783" y="976" width="7" height="16" fill="#90ee90"/><rect x="791" y="976" width="7" height="16" fill="#90ee90"/><rect x="783" y="993" width="7" height="15" fill="#90ee90"/><rect x="791" y="993" width="7" height="15" fill="#90ee90"/><rect x="783" y="1009" width="7" height="16" fill="#90ee90"/><rect x="791" y="1009" width="7" height="16" fill="#228b22"/><rect x="783" y="1026" width="7" height="15" fill="#90ee90"/><rect x="791" y="1026" width="7" height="15" fill="#228b22"/><rect x="783" y="1042" width="7" height="15" fill="#90ee90"/><rect x="791" y="1042" width="7" height="15" fill="#228b22"/><rect x="783" y="1058" width="7" height="16" fill="#90ee90"/><rect x="791" y="1058" width="7" height="16" fill="#228b22"/><rect x="783" y="1075" width="7" height="15" fill="#90ee90"/><rect x="791" y="1075" width="7" height="15" fill="#90ee90"/><rect x="783" y="1091" width="7" height="15" fill="#90ee90"/><rect x="791" y="1091" width="7" height="15" fill="#90ee90"/><rect x="783" y="1107" width="7" height="16" fill="#90ee90"/><rect x="791" y="1107" width="7" height="16" fill="#90ee90"/><rect x="783" y="1124" width="7" height="15" fill="#e02020"/><rect x="791" y="1124" width="7" height="15" fill="#90ee90"/><rect x="783" y="1140" width="7" height="15" fill="#e02020"/><rect x="791" y="1140" width="7" height="15" fill="#90ee90"/><rect x="783" y="1156" width="7" height="16" fill="#90ee90"/><rect x="791" y="1156" width="7" height="16" fill="#90ee90"/><rect x="812.75" y="877" width="1.5" height="148" fill="#151515"/><rect x="805.5" y="910.5" width="16" height="65" fill="#8c8c8c" stroke="#0a0a0a" stroke-width="1"/><rect x="806" y="911" width="7" height="15" fill="#f08080"/><rect x="814" y="911" width="7" height="15" fill="#f08080"/><rect x="806" y="927" width="7" height="16" fill="#f08080"/><rect x="814" y="927" width="7" height="16" fill="#f08080"/><rect x="806" y="944" width="7" height="15" fill="#f08080"/><rect x="814" y="944" width="7" height="15" fill="#f08080"/><rect x="806" y="960" width="7" height="15" fill="#e02020"/><rect x="814" y="960" width="7" height="15" fill="#f08080"/><rect x="834.75" y="943" width="1.5" height="163" fill="#151515"/><rect x="827.5" y="959.5" width="16" height="82" fill="#8c8c8c" stroke="#0a0a0a" stroke-width="1"/><rect x="828" y="960" width="7" height="15" fill="#f08080"/><rect x="836" y="960" width="7" height="15" fill="#f08080"/><rect x="828" y="976" width="7" height="16" fill="#f08080"/><rect x="836" y="976" width="7" height="16" fill="#f08080"/><rect x="828" y="993" width="7" height="15" fill="#f08080"/><rect x="836" y="993" width="7" height="15" fill="#f08080"/><rect x="828" y="1009" width="7" height="16" fill="#f08080"/><rect x="836" y="1009" width="7" height="16" fill="#f08080"/><rect x="828" y="1026" width="7" height="15" fill="#e02020"/><rect x="836" y="1026" width="7" height="15" fill="#f08080"/><rect x="827" y="1042" width="8" height="15" fill="#e02020"/><rect x="836" y="1058" width="8" height="16" fill="#228b22"/><rect x="836" y="1075" width="8" height="15" fill="#228b22"/><rect x="857.75" y="943" width="1.5" height="114" fill="#151515"/><rect x="850.5" y="959.5" width="16" height="82" fill="#8c8c8c" stroke="#0a0a0a" stroke-width="1"/><rect x="851" y="960" width="7" height="15" fill="#90ee90"/><rect x="859" y="960" width="7" height="15" fill="#90ee90"/><rect x="851" y="976" width="7" height="16" fill="#e02020"/><rect x="859" y="976" width="7" height="16" fill="#90ee90"/><rect x="851" y="993" width="7" height="15" fill="#90ee90"/><rect x="859" y="993" width="7" height="15" fill="#90ee90"/><rect x="851" y="1009" width="7" height="16" fill="#90ee90"/><rect x="859" y="1009" width="7" height="16" fill="#90ee90"/><rect x="851" y="1026" width="7" height="15" fill="#90ee90"/><rect x="859" y="1026" width="7" height="15" fill="#90ee90"/><rect x="879.75" y="910" width="1.5" height="147" fill="#151515"/><rect x="872.5" y="943.5" width="16" height="49" fill="#8c8c8c" stroke="#0a0a0a" stroke-width="1"/><rect x="873" y="944" width="7" height="15" fill="#90ee90"/><rect x="881" y="944" width="7" height="15" fill="#90ee90"/><rect x="873" y="960" width="7" height="15" fill="#90ee90"/><rect x="881" y="960" width="7" height="15" fill="#90ee90"/><rect x="873" y="976" width="7" height="16" fill="#90ee90"/><rect x="881" y="976" width="7" height="16" fill="#90ee90"/><rect x="881" y="993" width="8" height="15" fill="#228b22"/><rect x="881" y="1009" width="8" height="16" fill="#228b22"/><rect x="881" y="1026" width="8" height="15" fill="#228b22"/><rect x="902.75" y="828" width="1.5" height="131" fill="#151515"/><rect x="895.5" y="845.5" width="16" height="114" fill="#8c8c8c" stroke="#0a0a0a" stroke-width="1"/><rect x="896" y="846" width="7" height="15" fill="#90ee90"/><rect x="904" y="846" width="7" height="15" fill="#228b22"/><rect x="896" y="862" width="7" height="15" fill="#90ee90"/><rect x="904" y="862" width="7" height="15" fill="#228b22"/><rect x="896" y="878" width="7" height="16" fill="#90ee90"/><rect x="904" y="878" width="7" height="16" fill="#90ee90"/><rect x="896" y="895" width="7" height="15" fill="#90ee90"/><rect x="904" y="895" width="7" height="15" fill="#228b22"/><rect x="896" y="911" width="7" height="15" fill="#90ee90"/><rect x="904" y="911" width="7" height="15" fill="#228b22"/><rect x="896" y="927" width="7" height="16" fill="#90ee90"/><rect x="904" y="927" width="7" height="16" fill="#228b22"/><rect x="896" y="944" width="7" height="15" fill="#90ee90"/><rect x="904" y="944" width="7" height="15" fill="#90ee90"/><rect x="924.75" y="828" width="1.5" height="131" fill="#151515"/><rect x="917.5" y="845.5" width="16" height="114" fill="#8c8c8c" stroke="#0a0a0a" stroke-width="1"/><rect x="918" y="846" width="7" height="15" fill="#f08080"/><rect x="926" y="846" width="7" height="15" fill="#f08080"/><rect x="918" y="862" width="7" height="15" fill="#e02020"/><rect x="926" y="862" width="7" height="15" fill="#f08080"/><rect x="918" y="878" width="7" height="16" fill="#f08080"/><rect x="926" y="878" width="7" height="16" fill="#f08080"/><rect x="918" y="895" width="7" height="15" fill="#e02020"/><rect x="926" y="895" width="7" height="15" fill="#f08080"/><rect x="918" y="911" width="7" height="15" fill="#f08080"/><rect x="926" y="911" width="7" height="15" fill="#f08080"/><rect x="918" y="927" width="7" height="16" fill="#f08080"/><rect x="926" y="927" width="7" height="16" fill="#f08080"/><rect x="918" y="944" width="7" height="15" fill="#f08080"/><rect x="926" y="944" width="7" height="15" fill="#f08080"/><rect x="926" y="829" width="8" height="16" fill="#228b22"/><rect x="947.75" y="894" width="1.5" height="81" fill="#151515"/><rect x="940.5" y="943.5" width="16" height="16" fill="#8c8c8c" stroke="#0a0a0a" stroke-width="1"/><rect x="941" y="944" width="7" height="15" fill="#f08080"/><rect x="949" y="944" width="7" height="15" fill="#f08080"/><rect x="969.75" y="861" width="1.5" height="114" fill="#151515"/><rect x="962.5" y="894.5" width="16" height="81" fill="#8c8c8c" stroke="#0a0a0a" stroke-width="1"/><rect x="963" y="895" width="7" height="15" fill="#90ee90"/><rect x="971" y="895" width="7" height="15" fill="#90ee90"/><rect x="963" y="911" width="7" height="15" fill="#90ee90"/><rect x="971" y="911" width="7" height="15" fill="#228b22"/><rect x="963" y="927" width="7" height="16" fill="#90ee90"/><rect x="971" y="927" width="7" height="16" fill="#228b22"/><rect x="963" y="944" width="7" height="15" fill="#90ee90"/><rect x="971" y="944" width="7" height="15" fill="#90ee90"/><rect x="963" y="960" width="7" height="15" fill="#90ee90"/><rect x="971" y="960" width="7" height="15" fill="#90ee90"/><rect x="992.75" y="845" width="1.5" height="98" fill="#151515"/><rect x="985.5" y="845.5" width="16" height="65" fill="#8c8c8c" stroke="#0a0a0a" stroke-width="1"/><rect x="986" y="846" width="7" height="15" fill="#90ee90"/><rect x="994" y="846" width="7" height="15" fill="#90ee90"/><rect x="986" y="862" width="7" height="15" fill="#90ee90"/><rect x="994" y="862" width="7" height="15" fill="#90ee90"/><rect x="986" y="878" width="7" height="16" fill="#e02020"/><rect x="994" y="878" width="7" height="16" fill="#90ee90"/><rect x="986" y="895" width="7" height="15" fill="#90ee90"/><rect x="994" y="895" width="7" height="15" fill="#90ee90"/><rect x="985" y="927" width="8" height="16" fill="#e02020"/><rect x="1014.75" y="828" width="1.5" height="98" fill="#151515"/><rect x="1007.5" y="845.5" width="16" height="65" fill="#8c8c8c" stroke="#0a0a0a" stroke-width="1"/><rect x="1008" y="846" width="7" height="15" fill="#f08080"/><rect x="1016" y="846" width="7" height="15" fill="#f08080"/><rect x="1008" y="862" width="7" height="15" fill="#e02020"/><rect x="1016" y="862" width="7" height="15" fill="#f08080"/><rect x="1008" y="878" width="7" height="16" fill="#e02020"/><rect x="1016" y="878" width="7" height="16" fill="#f08080"/><rect x="1008" y="895" width="7" height="15" fill="#e02020"/><rect x="1016" y="895" width="7" height="15" fill="#228b22"/><rect x="1016" y="829" width="8" height="16" fill="#228b22"/><rect x="1037.75" y="861" width="1.5" height="98" fill="#151515"/><rect x="1030.5" y="877.5" width="16" height="33" fill="#8c8c8c" stroke="#0a0a0a" stroke-width="1"/><rect x="1031" y="878" width="7" height="16" fill="#90ee90"/><rect x="1039" y="878" width="7" height="16" fill="#90ee90"/><rect x="1031" y="895" width="7" height="15" fill="#90ee90"/><rect x="1039" y="895" width="7" height="15" fill="#90ee90"/><rect x="1039" y="862" width="8" height="15" fill="#228b22"/><rect x="1059.75" y="796" width="1.5" height="114" fill="#151515"/><rect x="1052.5" y="877.5" width="16" height="33" fill="#8c8c8c" stroke="#0a0a0a" stroke-width="1"/><rect x="1053" y="878" width="7" height="16" fill="#e02020"/><rect x="1061" y="878" width="7" height="16" fill="#f08080"/><rect x="1053" y="895" width="7" height="15" fill="#e02020"/><rect x="1061" y="895" width="7" height="15" fill="#f08080"/><rect x="1061" y="813" width="8" height="15" fill="#228b22"/><rect x="1052" y="846" width="8" height="15" fill="#e02020"/><rect x="1061" y="846" width="8" height="15" fill="#228b22"/><rect x="1082.75" y="877" width="1.5" height="131" fill="#151515"/><rect x="1075.5" y="894.5" width="16" height="98" fill="#8c8c8c" stroke="#0a0a0a" stroke-width="1"/><rect x="1076" y="895" width="7" height="15" fill="#f08080"/><rect x="1084" y="895" width="7" height="15" fill="#f08080"/><rect x="1076" y="911" width="7" height="15" fill="#f08080"/><rect x="1084" y="911" width="7" height="15" fill="#f08080"/><rect x="1076" y="927" width="7" height="16" fill="#e02020"/><rect x="1084" y="927" width="7" height="16" fill="#f08080"/><rect x="1076" y="944" width="7" height="15" fill="#e02020"/><rect x="1084" y="944" width="7" height="15" fill="#f08080"/><rect x="1076" y="960" width="7" height="15" fill="#e02020"/><rect x="1084" y="960" width="7" height="15" fill="#f08080"/><rect x="1076" y="976" width="7" height="16" fill="#f08080"/><rect x="1084" y="976" width="7" height="16" fill="#228b22"/><rect x="1104.75" y="894" width="1.5" height="98" fill="#151515"/><rect x="1097.5" y="959.5" width="16" height="33" fill="#8c8c8c" stroke="#0a0a0a" stroke-width="1"/><rect x="1098" y="960" width="7" height="15" fill="#90ee90"/><rect x="1106" y="960" width="7" height="15" fill="#90ee90"/><rect x="1098" y="976" width="7" height="16" fill="#e02020"/><rect x="1106" y="976" width="7" height="16" fill="#90ee90"/><rect x="1127.75" y="894" width="1.5" height="81" fill="#151515"/><rect x="1120.5" y="894.5" width="16" height="81" fill="#8c8c8c" stroke="#0a0a0a" stroke-width="1"/><rect x="1121" y="895" width="7" height="15" fill="#90ee90"/><rect x="1129" y="895" width="7" height="15" fill="#228b22"/><rect x="1121" y="911" width="7" height="15" fill="#90ee90"/><rect x="1129" y="911" width="7" height="15" fill="#90ee90"/><rect x="1121" y="927" width="7" height="16" fill="#90ee90"/><rect x="1129" y="927" width="7" height="16" fill="#90ee90"/><rect x="1121" y="944" width="7" height="15" fill="#90ee90"/><rect x="1129" y="944" width="7" height="15" fill="#90ee90"/><rect x="1121" y="960" width="7" height="15" fill="#90ee90"/><rect x="1129" y="960" width="7" height="15" fill="#90ee90"/><rect x="1149.75" y="877" width="1.5" height="115" fill="#151515"/><rect x="1142.5" y="894.5" width="16" height="32" fill="#8c8c8c" stroke="#0a0a0a" stroke-width="1"/><rect x="1143" y="895" width="7" height="15" fill="#90ee90"/><rect x="1151" y="895" width="7" height="15" fill="#90ee90"/><rect x="1143" y="911" width="7" height="15" fill="#90ee90"/><rect x="1151" y="911" width="7" height="15" fill="#90ee90"/><rect x="1142" y="976" width="8" height="16" fill="#e02020"/><rect x="1172.75" y="861" width="1.5" height="82" fill="#151515"/><rect x="1165.5" y="861.5" width="16" height="49" fill="#8c8c8c" stroke="#0a0a0a" stroke-width="1"/><rect x="1166" y="862" width="7" height="15" fill="#90ee90"/><rect x="1174" y="862" width="7" height="15" fill="#90ee90"/><rect x="1166" y="878" width="7" height="16" fill="#90ee90"/><rect x="1174" y="878" width="7" height="16" fill="#90ee90"/><rect x="1166" y="895" width="7" height="15" fill="#90ee90"/><rect x="1174" y="895" width="7" height="15" fill="#90ee90"/><rect x="1194.75" y="763" width="1.5" height="147" fill="#151515"/><rect x="1187.5" y="779.5" width="16" height="98" fill="#8c8c8c" stroke="#0a0a0a" stroke-width="1"/><rect x="1188" y="780" width="7" height="16" fill="#90ee90"/><rect x="1196" y="780" width="7" height="16" fill="#228b22"/><rect x="1188" y="797" width="7" height="15" fill="#90ee90"/><rect x="1196" y="797" width="7" height="15" fill="#228b22"/><rect x="1188" y="813" width="7" height="15" fill="#90ee90"/><rect x="1196" y="813" width="7" height="15" fill="#228b22"/><rect x="1188" y="829" width="7" height="16" fill="#90ee90"/><rect x="1196" y="829" width="7" height="16" fill="#228b22"/><rect x="1188" y="846" width="7" height="15" fill="#90ee90"/><rect x="1196" y="846" width="7" height="15" fill="#228b22"/><rect x="1188" y="862" width="7" height="15" fill="#90ee90"/><rect x="1196" y="862" width="7" height="15" fill="#228b22"/><rect x="1196" y="764" width="8" height="15" fill="#228b22"/><rect x="1217.75" y="747" width="1.5" height="81" fill="#151515"/><rect x="1210.5" y="763.5" width="16" height="33" fill="#8c8c8c" stroke="#0a0a0a" stroke-width="1"/><rect x="1211" y="764" width="7" height="15" fill="#90ee90"/><rect x="1219" y="764" width="7" height="15" fill="#90ee90"/><rect x="1211" y="780" width="7" height="16" fill="#90ee90"/><rect x="1219" y="780" width="7" height="16" fill="#90ee90"/><rect x="1219" y="748" width="8" height="15" fill="#228b22"/><rect x="1210" y="797" width="8" height="15" fill="#e02020"/><rect x="1210" y="813" width="8" height="15" fill="#e02020"/><rect x="1239.75" y="681" width="1.5" height="98" fill="#151515"/><rect x="1232.5" y="698.5" width="16" height="81" fill="#8c8c8c" stroke="#0a0a0a" stroke-width="1"/><rect x="1233" y="699" width="7" height="15" fill="#90ee90"/><rect x="1241" y="699" width="7" height="15" fill="#228b22"/><rect x="1233" y="715" width="7" height="15" fill="#90ee90"/><rect x="1241" y="715" width="7" height="15" fill="#90ee90"/><rect x="1233" y="731" width="7" height="16" fill="#90ee90"/><rect x="1241" y="731" width="7" height="16" fill="#90ee90"/><rect x="1233" y="748" width="7" height="15" fill="#90ee90"/><rect x="1241" y="748" width="7" height="15" fill="#228b22"/><rect x="1233" y="764" width="7" height="15" fill="#90ee90"/><rect x="1241" y="764" width="7" height="15" fill="#90ee90"/><rect x="1262.75" y="649" width="1.5" height="81" fill="#151515"/><rect x="1255.5" y="665.5" width="16" height="49" fill="#8c8c8c" stroke="#0a0a0a" stroke-width="1"/><rect x="1256" y="666" width="7" height="15" fill="#90ee90"/><rect x="1264" y="666" width="7" height="15" fill="#90ee90"/><rect x="1256" y="682" width="7" height="16" fill="#90ee90"/><rect x="1264" y="682" width="7" height="16" fill="#90ee90"/><rect x="1256" y="699" width="7" height="15" fill="#90ee90"/><rect x="1264" y="699" width="7" height="15" fill="#228b22"/><rect x="1284.75" y="600" width="1.5" height="98" fill="#151515"/><rect x="1277.5" y="665.5" width="16" height="33" fill="#8c8c8c" stroke="#0a0a0a" stroke-width="1"/><rect x="1278" y="666" width="7" height="15" fill="#e02020"/><rect x="1286" y="666" width="7" height="15" fill="#f08080"/><rect x="1278" y="682" width="7" height="16" fill="#e02020"/><rect x="1286" y="682" width="7" height="16" fill="#f08080"/><rect x="1277" y="617" width="8" height="15" fill="#e02020"/><rect x="1286" y="633" width="8" height="16" fill="#228b22"/><rect x="1307.75" y="681" width="1.5" height="131" fill="#151515"/><rect x="1300.5" y="681.5" width="16" height="131" fill="#8c8c8c" stroke="#0a0a0a" stroke-width="1"/><rect x="1301" y="682" width="7" height="16" fill="#f08080"/><rect x="1309" y="682" width="7" height="16" fill="#f08080"/><rect x="1301" y="699" width="7" height="15" fill="#e02020"/><rect x="1309" y="699" width="7" height="15" fill="#f08080"/><rect x="1301" y="715" width="7" height="15" fill="#e02020"/><rect x="1309" y="715" width="7" height="15" fill="#f08080"/><rect x="1301" y="731" width="7" height="16" fill="#e02020"/><rect x="1309" y="731" width="7" height="16" fill="#f08080"/><rect x="1301" y="748" width="7" height="15" fill="#e02020"/><rect x="1309" y="748" width="7" height="15" fill="#f08080"/><rect x="1301" y="764" width="7" height="15" fill="#e02020"/><rect x="1309" y="764" width="7" height="15" fill="#f08080"/><rect x="1301" y="780" width="7" height="16" fill="#f08080"/><rect x="1309" y="780" width="7" height="16" fill="#f08080"/><rect x="1301" y="797" width="7" height="15" fill="#e02020"/><rect x="1309" y="797" width="7" height="15" fill="#f08080"/><rect x="1329.75" y="779" width="1.5" height="98" fill="#151515"/><rect x="1322.5" y="796.5" width="16" height="49" fill="#8c8c8c" stroke="#0a0a0a" stroke-width="1"/><rect x="1323" y="797" width="7" height="15" fill="#e02020"/><rect x="1331" y="797" width="7" height="15" fill="#f08080"/><rect x="1323" y="813" width="7" height="15" fill="#e02020"/><rect x="1331" y="813" width="7" height="15" fill="#f08080"/><rect x="1323" y="829" width="7" height="16" fill="#e02020"/><rect x="1331" y="829" width="7" height="16" fill="#f08080"/><rect x="1322" y="862" width="8" height="15" fill="#e02020"/><rect x="1352.75" y="681" width="1.5" height="164" fill="#151515"/><rect x="1345.5" y="681.5" width="16" height="164" fill="#8c8c8c" stroke="#0a0a0a" stroke-width="1"/><rect x="1346" y="682" width="7" height="16" fill="#90ee90"/><rect x="1354" y="682" width="7" height="16" fill="#90ee90"/><rect x="1346" y="699" width="7" height="15" fill="#90ee90"/><rect x="1354" y="699" width="7" height="15" fill="#228b22"/><rect x="1346" y="715" width="7" height="15" fill="#90ee90"/><rect x="1354" y="715" width="7" height="15" fill="#228b22"/><rect x="1346" y="731" width="7" height="16" fill="#90ee90"/><rect x="1354" y="731" width="7" height="16" fill="#228b22"/><rect x="1346" y="748" width="7" height="15" fill="#90ee90"/><rect x="1354" y="748" width="7" height="15" fill="#228b22"/><rect x="1346" y="764" width="7" height="15" fill="#90ee90"/><rect x="1354" y="764" width="7" height="15" fill="#228b22"/><rect x="1346" y="780" width="7" height="16" fill="#90ee90"/><rect x="1354" y="780" width="7" height="16" fill="#228b22"/><rect x="1346" y="797" width="7" height="15" fill="#90ee90"/><rect x="1354" y="797" width="7" height="15" fill="#228b22"/><rect x="1346" y="813" width="7" height="15" fill="#90ee90"/><rect x="1354" y="813" width="7" height="15" fill="#90ee90"/><rect x="1346" y="829" width="7" height="16" fill="#90ee90"/><rect x="1354" y="829" width="7" height="16" fill="#90ee90"/><rect x="1374.75" y="600" width="1.5" height="98" fill="#151515"/><rect x="1367.5" y="600.5" width="16" height="98" fill="#8c8c8c" stroke="#0a0a0a" stroke-width="1"/><rect x="1368" y="601" width="7" height="15" fill="#90ee90"/><rect x="1376" y="601" width="7" height="15" fill="#228b22"/><rect x="1368" y="617" width="7" height="15" fill="#90ee90"/><rect x="1376" y="617" width="7" height="15" fill="#228b22"/><rect x="1368" y="633" width="7" height="16" fill="#90ee90"/><rect x="1376" y="633" width="7" height="16" fill="#228b22"/><rect x="1368" y="650" width="7" height="15" fill="#90ee90"/><rect x="1376" y="650" width="7" height="15" fill="#228b22"/><rect x="1368" y="666" width="7" height="15" fill="#90ee90"/><rect x="1376" y="666" width="7" height="15" fill="#228b22"/><rect x="1368" y="682" width="7" height="16" fill="#90ee90"/><rect x="1376" y="682" width="7" height="16" fill="#90ee90"/><rect x="1397.75" y="551" width="1.5" height="81" fill="#151515"/><rect x="1390.5" y="551.5" width="16" height="65" fill="#8c8c8c" stroke="#0a0a0a" stroke-width="1"/><rect x="1391" y="552" width="7" height="15" fill="#90ee90"/><rect x="1399" y="552" width="7" height="15" fill="#90ee90"/><rect x="1391" y="568" width="7" height="15" fill="#90ee90"/><rect x="1399" y="568" width="7" height="15" fill="#228b22"/><rect x="1391" y="584" width="7" height="16" fill="#90ee90"/><rect x="1399" y="584" width="7" height="16" fill="#228b22"/><rect x="1391" y="601" width="7" height="15" fill="#90ee90"/><rect x="1399" y="601" width="7" height="15" fill="#228b22"/><rect x="1419.75" y="551" width="1.5" height="114" fill="#151515"/><rect x="1412.5" y="551.5" width="16" height="65" fill="#8c8c8c" stroke="#0a0a0a" stroke-width="1"/><rect x="1413" y="552" width="7" height="15" fill="#f08080"/><rect x="1421" y="552" width="7" height="15" fill="#f08080"/><rect x="1413" y="568" width="7" height="15" fill="#f08080"/><rect x="1421" y="568" width="7" height="15" fill="#f08080"/><rect x="1413" y="584" width="7" height="16" fill="#e02020"/><rect x="1421" y="584" width="7" height="16" fill="#f08080"/><rect x="1413" y="601" width="7" height="15" fill="#e02020"/><rect x="1421" y="601" width="7" height="15" fill="#f08080"/><rect x="1412" y="650" width="8" height="15" fill="#e02020"/><rect x="1442.75" y="600" width="1.5" height="98" fill="#151515"/><rect x="1435.5" y="600.5" width="16" height="98" fill="#8c8c8c" stroke="#0a0a0a" stroke-width="1"/><rect x="1436" y="601" width="7" height="15" fill="#f08080"/><rect x="1444" y="601" width="7" height="15" fill="#f08080"/><rect x="1436" y="617" width="7" height="15" fill="#f08080"/><rect x="1444" y="617" width="7" height="15" fill="#f08080"/><rect x="1436" y="633" width="7" height="16" fill="#f08080"/><rect x="1444" y="633" width="7" height="16" fill="#f08080"/><rect x="1436" y="650" width="7" height="15" fill="#e02020"/><rect x="1444" y="650" width="7" height="15" fill="#f08080"/><rect x="1436" y="666" width="7" height="15" fill="#e02020"/><rect x="1444" y="666" width="7" height="15" fill="#f08080"/><rect x="1436" y="682" width="7" height="16" fill="#e02020"/><rect x="1444" y="682" width="7" height="16" fill="#f08080"/><rect x="1464.75" y="632" width="1.5" height="115" fill="#151515"/><rect x="1457.5" y="649.5" width="16" height="49" fill="#8c8c8c" stroke="#0a0a0a" stroke-width="1"/><rect x="1458" y="650" width="7" height="15" fill="#90ee90"/><rect x="1466" y="650" width="7" height="15" fill="#90ee90"/><rect x="1458" y="666" width="7" height="15" fill="#90ee90"/><rect x="1466" y="666" width="7" height="15" fill="#228b22"/><rect x="1458" y="682" width="7" height="16" fill="#90ee90"/><rect x="1466" y="682" width="7" height="16" fill="#90ee90"/><rect x="1457" y="715" width="8" height="15" fill="#e02020"/><rect x="1466" y="715" width="8" height="15" fill="#228b22"/><rect x="1487.75" y="632" width="1.5" height="115" fill="#151515"/><rect x="1480.5" y="632.5" width="16" height="66" fill="#8c8c8c" stroke="#0a0a0a" stroke-width="1"/><rect x="1481" y="633" width="7" height="16" fill="#f08080"/><rect x="1489" y="633" width="7" height="16" fill="#f08080"/><rect x="1481" y="650" width="7" height="15" fill="#f08080"/><rect x="1489" y="650" width="7" height="15" fill="#f08080"/><rect x="1481" y="666" width="7" height="15" fill="#e02020"/><rect x="1489" y="666" width="7" height="15" fill="#f08080"/><rect x="1481" y="682" width="7" height="16" fill="#f08080"/><rect x="1489" y="682" width="7" height="16" fill="#228b22"/><rect x="1480" y="715" width="8" height="15" fill="#e02020"/><rect x="1489" y="715" width="8" height="15" fill="#228b22"/><rect x="1509.75" y="600" width="1.5" height="114" fill="#151515"/><rect x="1502.5" y="600.5" width="16" height="98" fill="#8c8c8c" stroke="#0a0a0a" stroke-width="1"/><rect x="1503" y="601" width="7" height="15" fill="#90ee90"/><rect x="1511" y="601" width="7" height="15" fill="#228b22"/><rect x="1503" y="617" width="7" height="15" fill="#90ee90"/><rect x="1511" y="617" width="7" height="15" fill="#90ee90"/><rect x="1503" y="633" width="7" height="16" fill="#90ee90"/><rect x="1511" y="633" width="7" height="16" fill="#228b22"/><rect x="1503" y="650" width="7" height="15" fill="#90ee90"/><rect x="1511" y="650" width="7" height="15" fill="#228b22"/><rect x="1503" y="666" width="7" height="15" fill="#90ee90"/><rect x="1511" y="666" width="7" height="15" fill="#90ee90"/><rect x="1503" y="682" width="7" height="16" fill="#90ee90"/><rect x="1511" y="682" width="7" height="16" fill="#90ee90"/><rect x="1532.75" y="534" width="1.5" height="82" fill="#151515"/><rect x="1525.5" y="534.5" width="16" height="82" fill="#8c8c8c" stroke="#0a0a0a" stroke-width="1"/><rect x="1526" y="535" width="7" height="16" fill="#90ee90"/><rect x="1534" y="535" width="7" height="16" fill="#228b22"/><rect x="1526" y="552" width="7" height="15" fill="#90ee90"/><rect x="1534" y="552" width="7" height="15" fill="#90ee90"/><rect x="1526" y="568" width="7" height="15" fill="#90ee90"/><rect x="1534" y="568" width="7" height="15" fill="#228b22"/><rect x="1526" y="584" width="7" height="16" fill="#90ee90"/><rect x="1534" y="584" width="7" height="16" fill="#228b22"/><rect x="1526" y="601" width="7" height="15" fill="#90ee90"/><rect x="1534" y="601" width="7" height="15" fill="#90ee90"/><rect x="1554.75" y="518" width="1.5" height="65" fill="#151515"/><rect x="1547.5" y="518.5" width="16" height="33" fill="#8c8c8c" stroke="#0a0a0a" stroke-width="1"/><rect x="1548" y="519" width="7" height="15" fill="#90ee90"/><rect x="1556" y="519" width="7" height="15" fill="#90ee90"/><rect x="1548" y="535" width="7" height="16" fill="#90ee90"/><rect x="1556" y="535" width="7" height="16" fill="#228b22"/><rect x="1556" y="552" width="8" height="15" fill="#228b22"/><rect x="1577.75" y="485" width="1.5" height="66" fill="#151515"/><rect x="1570.5" y="485.5" width="16" height="49" fill="#8c8c8c" stroke="#0a0a0a" stroke-width="1"/><rect x="1571" y="486" width="7" height="16" fill="#90ee90"/><rect x="1579" y="486" width="7" height="16" fill="#228b22"/><rect x="1571" y="503" width="7" height="15" fill="#90ee90"/><rect x="1579" y="503" width="7" height="15" fill="#228b22"/><rect x="1571" y="519" width="7" height="15" fill="#90ee90"/><rect x="1579" y="519" width="7" height="15" fill="#228b22"/><rect x="1599.75" y="469" width="1.5" height="65" fill="#151515"/><rect x="1592.5" y="485.5" width="16" height="33" fill="#8c8c8c" stroke="#0a0a0a" stroke-width="1"/><rect x="1593" y="486" width="7" height="16" fill="#e02020"/><rect x="1601" y="486" width="7" height="16" fill="#228b22"/><rect x="1593" y="503" width="7" height="15" fill="#90ee90"/><rect x="1601" y="503" width="7" height="15" fill="#228b22"/><rect x="1622.75" y="453" width="1.5" height="114" fill="#151515"/><rect x="1615.5" y="485.5" width="16" height="82" fill="#8c8c8c" stroke="#0a0a0a" stroke-width="1"/><rect x="1616" y="486" width="7" height="16" fill="#f08080"/><rect x="1624" y="486" width="7" height="16" fill="#f08080"/><rect x="1616" y="503" width="7" height="15" fill="#e02020"/><rect x="1624" y="503" width="7" height="15" fill="#f08080"/><rect x="1616" y="519" width="7" height="15" fill="#e02020"/><rect x="1624" y="519" width="7" height="15" fill="#f08080"/><rect x="1616" y="535" width="7" height="16" fill="#e02020"/><rect x="1624" y="535" width="7" height="16" fill="#f08080"/><rect x="1616" y="552" width="7" height="15" fill="#e02020"/><rect x="1624" y="552" width="7" height="15" fill="#f08080"/><rect x="1624" y="470" width="8" height="15" fill="#228b22"/><rect x="1644.75" y="534" width="1.5" height="82" fill="#151515"/><rect x="1637.5" y="551.5" width="16" height="49" fill="#8c8c8c" stroke="#0a0a0a" stroke-width="1"/><rect x="1638" y="552" width="7" height="15" fill="#f08080"/><rect x="1646" y="552" width="7" height="15" fill="#f08080"/><rect x="1638" y="568" width="7" height="15" fill="#e02020"/><rect x="1646" y="568" width="7" height="15" fill="#f08080"/><rect x="1638" y="584" width="7" height="16" fill="#f08080"/><rect x="1646" y="584" width="7" height="16" fill="#f08080"/><rect x="1667.75" y="534" width="1.5" height="82" fill="#151515"/><rect x="1660.5" y="534.5" width="16" height="66" fill="#8c8c8c" stroke="#0a0a0a" stroke-width="1"/><rect x="1661" y="535" width="7" height="16" fill="#90ee90"/><rect x="1669" y="535" width="7" height="16" fill="#228b22"/><rect x="1661" y="552" width="7" height="15" fill="#90ee90"/><rect x="1669" y="552" width="7" height="15" fill="#228b22"/><rect x="1661" y="568" width="7" height="15" fill="#90ee90"/><rect x="1669" y="568" width="7" height="15" fill="#90ee90"/><rect x="1661" y="584" width="7" height="16" fill="#90ee90"/><rect x="1669" y="584" width="7" height="16" fill="#228b22"/><rect x="1689.75" y="502" width="1.5" height="65" fill="#151515"/><rect x="1682.5" y="534.5" width="16" height="33" fill="#8c8c8c" stroke="#0a0a0a" stroke-width="1"/><rect x="1683" y="535" width="7" height="16" fill="#f08080"/><rect x="1691" y="535" width="7" height="16" fill="#f08080"/><rect x="1683" y="552" width="7" height="15" fill="#e02020"/><rect x="1691" y="552" width="7" height="15" fill="#f08080"/><rect x="1682" y="519" width="8" height="15" fill="#e02020"/><rect x="1712.75" y="518" width="1.5" height="65" fill="#151515"/><rect x="1705.5" y="518.5" width="16" height="49" fill="#8c8c8c" stroke="#0a0a0a" stroke-width="1"/><rect x="1706" y="519" width="7" height="15" fill="#90ee90"/><rect x="1714" y="519" width="7" height="15" fill="#228b22"/><rect x="1706" y="535" width="7" height="16" fill="#90ee90"/><rect x="1714" y="535" width="7" height="16" fill="#90ee90"/><rect x="1706" y="552" width="7" height="15" fill="#90ee90"/><rect x="1714" y="552" width="7" height="15" fill="#228b22"/><rect x="1734.75" y="485" width="1.5" height="49" fill="#151515"/><rect x="1727.5" y="485.5" width="16" height="33" fill="#8c8c8c" stroke="#0a0a0a" stroke-width="1"/><rect x="1728" y="486" width="7" height="16" fill="#90ee90"/><rect x="1736" y="486" width="7" height="16" fill="#90ee90"/><rect x="1728" y="503" width="7" height="15" fill="#90ee90"/><rect x="1736" y="503" width="7" height="15" fill="#90ee90"/><rect x="1757.75" y="469" width="1.5" height="65" fill="#151515"/><rect x="1750.5" y="485.5" width="16" height="49" fill="#8c8c8c" stroke="#0a0a0a" stroke-width="1"/><rect x="1751" y="486" width="7" height="16" fill="#f08080"/><rect x="1759" y="486" width="7" height="16" fill="#228b22"/><rect x="1751" y="503" width="7" height="15" fill="#f08080"/><rect x="1759" y="503" width="7" height="15" fill="#f08080"/><rect x="1751" y="519" width="7" height="15" fill="#f08080"/><rect x="1759" y="519" width="7" height="15" fill="#f08080"/><rect x="1779.75" y="436" width="1.5" height="115" fill="#151515"/><rect x="1772.5" y="436.5" width="16" height="98" fill="#8c8c8c" stroke="#0a0a0a" stroke-width="1"/><rect x="1773" y="437" width="7" height="16" fill="#90ee90"/><rect x="1781" y="437" width="7" height="16" fill="#90ee90"/><rect x="1773" y="454" width="7" height="15" fill="#90ee90"/><rect x="1781" y="454" width="7" height="15" fill="#90ee90"/><rect x="1773" y="470" width="7" height="15" fill="#90ee90"/><rect x="1781" y="470" width="7" height="15" fill="#90ee90"/><rect x="1773" y="486" width="7" height="16" fill="#90ee90"/><rect x="1781" y="486" width="7" height="16" fill="#90ee90"/><rect x="1773" y="503" width="7" height="15" fill="#90ee90"/><rect x="1781" y="503" width="7" height="15" fill="#90ee90"/><rect x="1773" y="519" width="7" height="15" fill="#90ee90"/><rect x="1781" y="519" width="7" height="15" fill="#90ee90"/><rect x="1802.75" y="420" width="1.5" height="65" fill="#151515"/><rect x="1795.5" y="420.5" width="16" height="33" fill="#8c8c8c" stroke="#0a0a0a" stroke-width="1"/><rect x="1796" y="421" width="7" height="15" fill="#90ee90"/><rect x="1804" y="421" width="7" height="15" fill="#228b22"/><rect x="1796" y="437" width="7" height="16" fill="#90ee90"/><rect x="1804" y="437" width="7" height="16" fill="#90ee90"/><rect x="1824.75" y="387" width="1.5" height="82" fill="#151515"/><rect x="1817.5" y="420.5" width="16" height="49" fill="#8c8c8c" stroke="#0a0a0a" stroke-width="1"/><rect x="1818" y="421" width="7" height="15" fill="#f08080"/><rect x="1826" y="421" width="7" height="15" fill="#f08080"/><rect x="1818" y="437" width="7" height="16" fill="#f08080"/><rect x="1826" y="437" width="7" height="16" fill="#f08080"/><rect x="1818" y="454" width="7" height="15" fill="#f08080"/><rect x="1826" y="454" width="7" height="15" fill="#f08080"/><rect x="1826" y="405" width="8" height="15" fill="#228b22"/><rect x="1847.75" y="371" width="1.5" height="114" fill="#151515"/><rect x="1840.5" y="371.5" width="16" height="98" fill="#8c8c8c" stroke="#0a0a0a" stroke-width="1"/><rect x="1841" y="372" width="7" height="15" fill="#90ee90"/><rect x="1849" y="372" width="7" height="15" fill="#228b22"/><rect x="1841" y="388" width="7" height="16" fill="#90ee90"/><rect x="1849" y="388" width="7" height="16" fill="#228b22"/><rect x="1841" y="405" width="7" height="15" fill="#90ee90"/><rect x="1849" y="405" width="7" height="15" fill="#228b22"/><rect x="1841" y="421" width="7" height="15" fill="#90ee90"/><rect x="1849" y="421" width="7" height="15" fill="#90ee90"/><rect x="1841" y="437" width="7" height="16" fill="#90ee90"/><rect x="1849" y="437" width="7" height="16" fill="#90ee90"/><rect x="1841" y="454" width="7" height="15" fill="#90ee90"/><rect x="1849" y="454" width="7" height="15" fill="#90ee90"/><rect x="1869.75" y="355" width="1.5" height="81" fill="#151515"/><rect x="1862.5" y="371.5" width="16" height="33" fill="#8c8c8c" stroke="#0a0a0a" stroke-width="1"/><rect x="1863" y="372" width="7" height="15" fill="#e02020"/><rect x="1871" y="372" width="7" height="15" fill="#f08080"/><rect x="1863" y="388" width="7" height="16" fill="#f08080"/><rect x="1871" y="388" width="7" height="16" fill="#f08080"/><rect x="1871" y="405" width="8" height="15" fill="#228b22"/><rect x="1892.75" y="387" width="1.5" height="82" fill="#151515"/><rect x="1885.5" y="387.5" width="16" height="33" fill="#8c8c8c" stroke="#0a0a0a" stroke-width="1"/><rect x="1886" y="388" width="7" height="16" fill="#f08080"/><rect x="1894" y="388" width="7" height="16" fill="#f08080"/><rect x="1886" y="405" width="7" height="15" fill="#e02020"/><rect x="1894" y="405" width="7" height="15" fill="#f08080"/><rect x="1885" y="421" width="8" height="15" fill="#e02020"/><rect x="1914.75" y="338" width="1.5" height="115" fill="#151515"/><rect x="1907.5" y="387.5" width="16" height="33" fill="#8c8c8c" stroke="#0a0a0a" stroke-width="1"/><rect x="1908" y="388" width="7" height="16" fill="#90ee90"/><rect x="1916" y="388" width="7" height="16" fill="#90ee90"/><rect x="1908" y="405" width="7" height="15" fill="#e02020"/><rect x="1916" y="405" width="7" height="15" fill="#90ee90"/><rect x="1907" y="356" width="8" height="15" fill="#e02020"/><rect x="1916" y="421" width="8" height="15" fill="#228b22"/><rect x="1937.75" y="371" width="1.5" height="82" fill="#151515"/><rect x="1930.5" y="371.5" width="16" height="33" fill="#8c8c8c" stroke="#0a0a0a" stroke-width="1"/><rect x="1931" y="372" width="7" height="15" fill="#90ee90"/><rect x="1939" y="372" width="7" height="15" fill="#228b22"/><rect x="1931" y="388" width="7" height="16" fill="#90ee90"/><rect x="1939" y="388" width="7" height="16" fill="#90ee90"/><rect x="1930" y="437" width="8" height="16" fill="#e02020"/><rect x="1959.75" y="355" width="1.5" height="81" fill="#151515"/><rect x="1952.5" y="371.5" width="16" height="49" fill="#8c8c8c" stroke="#0a0a0a" stroke-width="1"/><rect x="1953" y="372" width="7" height="15" fill="#e02020"/><rect x="1961" y="372" width="7" height="15" fill="#f08080"/><rect x="1953" y="388" width="7" height="16" fill="#e02020"/><rect x="1961" y="388" width="7" height="16" fill="#f08080"/><rect x="1953" y="405" width="7" height="15" fill="#e02020"/><rect x="1961" y="405" width="7" height="15" fill="#f08080"/><rect x="1982.75" y="387" width="1.5" height="82" fill="#151515"/><rect x="1975.5" y="404.5" width="16" height="49" fill="#8c8c8c" stroke="#0a0a0a" stroke-width="1"/><rect x="1976" y="405" width="7" height="15" fill="#f08080"/><rect x="1984" y="405" width="7" height="15" fill="#f08080"/><rect x="1976" y="421" width="7" height="15" fill="#f08080"/><rect x="1984" y="421" width="7" height="15" fill="#f08080"/><rect x="1976" y="437" width="7" height="16" fill="#f08080"/><rect x="1984" y="437" width="7" height="16" fill="#f08080"/><rect x="1975" y="454" width="8" height="15" fill="#e02020"/><rect x="2004.75" y="420" width="1.5" height="98" fill="#151515"/><rect x="1997.5" y="436.5" width="16" height="33" fill="#8c8c8c" stroke="#0a0a0a" stroke-width="1"/><rect x="1998" y="437" width="7" height="16" fill="#f08080"/><rect x="2006" y="437" width="7" height="16" fill="#228b22"/><rect x="1998" y="454" width="7" height="15" fill="#f08080"/><rect x="2006" y="454" width="7" height="15" fill="#f08080"/><rect x="1997" y="486" width="8" height="16" fill="#e02020"/><rect x="2027.75" y="387" width="1.5" height="82" fill="#151515"/><rect x="2020.5" y="420.5" width="16" height="49" fill="#8c8c8c" stroke="#0a0a0a" stroke-width="1"/><rect x="2021" y="421" width="7" height="15" fill="#90ee90"/><rect x="2029" y="421" width="7" height="15" fill="#90ee90"/><rect x="2021" y="437" width="7" height="16" fill="#90ee90"/><rect x="2029" y="437" width="7" height="16" fill="#90ee90"/><rect x="2021" y="454" width="7" height="15" fill="#e02020"/><rect x="2029" y="454" width="7" height="15" fill="#90ee90"/><rect x="2049.75" y="404" width="1.5" height="65" fill="#151515"/><rect x="2042.5" y="420.5" width="16" height="33" fill="#8c8c8c" stroke="#0a0a0a" stroke-width="1"/><rect x="2043" y="421" width="7" height="15" fill="#e02020"/><rect x="2051" y="421" width="7" height="15" fill="#f08080"/><rect x="2043" y="437" width="7" height="16" fill="#f08080"/><rect x="2051" y="437" width="7" height="16" fill="#f08080"/><rect x="2072.75" y="355" width="1.5" height="98" fill="#151515"/><rect x="2065.5" y="404.5" width="16" height="49" fill="#8c8c8c" stroke="#0a0a0a" stroke-width="1"/><rect x="2066" y="405" width="7" height="15" fill="#90ee90"/><rect x="2074" y="405" width="7" height="15" fill="#90ee90"/><rect x="2066" y="421" width="7" height="15" fill="#90ee90"/><rect x="2074" y="421" width="7" height="15" fill="#90ee90"/><rect x="2066" y="437" width="7" height="16" fill="#e02020"/><rect x="2074" y="437" width="7" height="16" fill="#90ee90"/><rect x="2074" y="372" width="8" height="15" fill="#228b22"/><rect x="2074" y="388" width="8" height="16" fill="#228b22"/><rect x="2094.75" y="387" width="1.5" height="66" fill="#151515"/><rect x="2087.5" y="387.5" width="16" height="33" fill="#8c8c8c" stroke="#0a0a0a" stroke-width="1"/><rect x="2088" y="388" width="7" height="16" fill="#90ee90"/><rect x="2096" y="388" width="7" height="16" fill="#90ee90"/><rect x="2088" y="405" width="7" height="15" fill="#e02020"/><rect x="2096" y="405" width="7" height="15" fill="#90ee90"/><rect x="2096" y="421" width="8" height="15" fill="#228b22"/><rect x="2117.75" y="355" width="1.5" height="130" fill="#151515"/><rect x="2110.5" y="371.5" width="16" height="65" fill="#8c8c8c" stroke="#0a0a0a" stroke-width="1"/><rect x="2111" y="372" width="7" height="15" fill="#90ee90"/><rect x="2119" y="372" width="7" height="15" fill="#228b22"/><rect x="2111" y="388" width="7" height="16" fill="#90ee90"/><rect x="2119" y="388" width="7" height="16" fill="#90ee90"/><rect x="2111" y="405" width="7" height="15" fill="#90ee90"/><rect x="2119" y="405" width="7" height="15" fill="#90ee90"/><rect x="2111" y="421" width="7" height="15" fill="#90ee90"/><rect x="2119" y="421" width="7" height="15" fill="#90ee90"/><rect x="2110" y="437" width="8" height="16" fill="#e02020"/><rect x="2110" y="470" width="8" height="15" fill="#e02020"/><rect x="2139.75" y="126" width="1.5" height="572" fill="#151515"/><rect x="2132.5" y="371.5" width="16" height="82" fill="#8c8c8c" stroke="#0a0a0a" stroke-width="1"/><rect x="2133" y="372" width="7" height="15" fill="#f08080"/><rect x="2141" y="372" width="7" height="15" fill="#f08080"/><rect x="2133" y="388" width="7" height="16" fill="#f08080"/><rect x="2141" y="388" width="7" height="16" fill="#f08080"/><rect x="2133" y="405" width="7" height="15" fill="#f08080"/><rect x="2141" y="405" width="7" height="15" fill="#f08080"/><rect x="2133" y="421" width="7" height="15" fill="#f08080"/><rect x="2141" y="421" width="7" height="15" fill="#f08080"/><rect x="2133" y="437" width="7" height="16" fill="#f08080"/><rect x="2141" y="437" width="7" height="16" fill="#f08080"/><rect x="2162.75" y="436" width="1.5" height="719" fill="#151515"/><rect x="2155.5" y="436.5" width="16" height="229" fill="#8c8c8c" stroke="#0a0a0a" stroke-width="1"/><rect x="2156" y="437" width="7" height="16" fill="#f08080"/><rect x="2164" y="437" width="7" height="16" fill="#f08080"/><rect x="2156" y="454" width="7" height="15" fill="#f08080"/><rect x="2164" y="454" width="7" height="15" fill="#f08080"/><rect x="2156" y="470" width="7" height="15" fill="#f08080"/><rect x="2164" y="470" width="7" height="15" fill="#f08080"/><rect x="2156" y="486" width="7" height="16" fill="#f08080"/><rect x="2164" y="486" width="7" height="16" fill="#f08080"/><rect x="2156" y="503" width="7" height="15" fill="#f08080"/><rect x="2164" y="503" width="7" height="15" fill="#f08080"/><rect x="2156" y="519" width="7" height="15" fill="#f08080"/><rect x="2164" y="519" width="7" height="15" fill="#f08080"/><rect x="2156" y="535" width="7" height="16" fill="#f08080"/><rect x="2164" y="535" width="7" height="16" fill="#f08080"/><rect x="2156" y="552" width="7" height="15" fill="#f08080"/><rect x="2164" y="552" width="7" height="15" fill="#f08080"/><rect x="2156" y="568" width="7" height="15" fill="#f08080"/><rect x="2164" y="568" width="7" height="15" fill="#f08080"/><rect x="2156" y="584" width="7" height="16" fill="#f08080"/><rect x="2164" y="584" width="7" height="16" fill="#f08080"/><rect x="2156" y="601" width="7" height="15" fill="#f08080"/><rect x="2164" y="601" width="7" height="15" fill="#f08080"/><rect x="2156" y="617" width="7" height="15" fill="#f08080"/><rect x="2164" y="617" width="7" height="15" fill="#f08080"/><rect x="2156" y="633" width="7" height="16" fill="#f08080"/><rect x="2164" y="633" width="7" height="16" fill="#f08080"/><rect x="2156" y="650" width="7" height="15" fill="#f08080"/><rect x="2164" y="650" width="7" height="15" fill="#f08080"/><rect x="2184.75" y="338" width="1.5" height="311" fill="#151515"/><rect x="2177.5" y="485.5" width="16" height="131" fill="#8c8c8c" stroke="#0a0a0a" stroke-width="1"/><rect x="2178" y="486" width="7" height="16" fill="#90ee90"/><rect x="2186" y="486" width="7" height="16" fill="#90ee90"/><rect x="2178" y="503" width="7" height="15" fill="#90ee90"/><rect x="2186" y="503" width="7" height="15" fill="#90ee90"/><rect x="2178" y="519" width="7" height="15" fill="#90ee90"/><rect x="2186" y="519" width="7" height="15" fill="#90ee90"/><rect x="2178" y="535" width="7" height="16" fill="#90ee90"/><rect x="2186" y="535" width="7" height="16" fill="#90ee90"/><rect x="2178" y="552" width="7" height="15" fill="#90ee90"/><rect x="2186" y="552" width="7" height="15" fill="#90ee90"/><rect x="2178" y="568" width="7" height="15" fill="#90ee90"/><rect x="2186" y="568" width="7" height="15" fill="#90ee90"/><rect x="2178" y="584" width="7" height="16" fill="#90ee90"/><rect x="2186" y="584" width="7" height="16" fill="#90ee90"/><rect x="2178" y="601" width="7" height="15" fill="#90ee90"/><rect x="2186" y="601" width="7" height="15" fill="#90ee90"/><rect x="2207.75" y="126" width="1.5" height="670" fill="#151515"/><rect x="2200.5" y="387.5" width="16" height="213" fill="#8c8c8c" stroke="#0a0a0a" stroke-width="1"/><rect x="2201" y="388" width="7" height="16" fill="#f08080"/><rect x="2209" y="388" width="7" height="16" fill="#228b22"/><rect x="2201" y="405" width="7" height="15" fill="#f08080"/><rect x="2209" y="405" width="7" height="15" fill="#f08080"/><rect x="2201" y="421" width="7" height="15" fill="#f08080"/><rect x="2209" y="421" width="7" height="15" fill="#f08080"/><rect x="2201" y="437" width="7" height="16" fill="#f08080"/><rect x="2209" y="437" width="7" height="16" fill="#f08080"/><rect x="2201" y="454" width="7" height="15" fill="#f08080"/><rect x="2209" y="454" width="7" height="15" fill="#f08080"/><rect x="2201" y="470" width="7" height="15" fill="#e02020"/><rect x="2209" y="470" width="7" height="15" fill="#f08080"/><rect x="2201" y="486" width="7" height="16" fill="#f08080"/><rect x="2209" y="486" width="7" height="16" fill="#f08080"/><rect x="2201" y="503" width="7" height="15" fill="#f08080"/><rect x="2209" y="503" width="7" height="15" fill="#f08080"/><rect x="2201" y="519" width="7" height="15" fill="#f08080"/><rect x="2209" y="519" width="7" height="15" fill="#f08080"/><rect x="2201" y="535" width="7" height="16" fill="#e02020"/><rect x="2209" y="535" width="7" height="16" fill="#f08080"/><rect x="2201" y="552" width="7" height="15" fill="#f08080"/><rect x="2209" y="552" width="7" height="15" fill="#f08080"/><rect x="2201" y="568" width="7" height="15" fill="#e02020"/><rect x="2209" y="568" width="7" height="15" fill="#f08080"/><rect x="2201" y="584" width="7" height="16" fill="#e02020"/><rect x="2209" y="584" width="7" height="16" fill="#f08080"/><rect x="2209" y="127" width="8" height="15" fill="#228b22"/><rect x="2209" y="176" width="8" height="15" fill="#228b22"/><rect x="2209" y="192" width="8" height="16" fill="#228b22"/><rect x="2200" y="225" width="8" height="15" fill="#e02020"/><rect x="2209" y="225" width="8" height="15" fill="#228b22"/><rect x="2209" y="258" width="8" height="15" fill="#228b22"/><rect x="2209" y="323" width="8" height="15" fill="#228b22"/><rect x="2209" y="339" width="8" height="16" fill="#228b22"/><rect x="2209" y="356" width="8" height="15" fill="#228b22"/><rect x="2200" y="601" width="8" height="15" fill="#e02020"/><rect x="2200" y="617" width="8" height="15" fill="#e02020"/><rect x="2200" y="650" width="8" height="15" fill="#e02020"/><rect x="2200" y="666" width="8" height="15" fill="#e02020"/><rect x="2229.75" y="485" width="1.5" height="605" fill="#151515"/><rect x="2222.5" y="534.5" width="16" height="540" fill="#8c8c8c" stroke="#0a0a0a" stroke-width="1"/><rect x="2223" y="535" width="7" height="16" fill="#f08080"/><rect x="2231" y="535" width="7" height="16" fill="#f08080"/><rect x="2223" y="552" width="7" height="15" fill="#f08080"/><rect x="2231" y="552" width="7" height="15" fill="#f08080"/><rect x="2223" y="568" width="7" height="15" fill="#f08080"/><rect x="2231" y="568" width="7" height="15" fill="#f08080"/><rect x="2223" y="584" width="7" height="16" fill="#f08080"/><rect x="2231" y="584" width="7" height="16" fill="#f08080"/><rect x="2223" y="601" width="7" height="15" fill="#f08080"/><rect x="2231" y="601" width="7" height="15" fill="#f08080"/><rect x="2223" y="617" width="7" height="15" fill="#f08080"/><rect x="2231" y="617" width="7" height="15" fill="#f08080"/><rect x="2223" y="633" width="7" height="16" fill="#e02020"/><rect x="2231" y="633" width="7" height="16" fill="#f08080"/><rect x="2223" y="650" width="7" height="15" fill="#e02020"/><rect x="2231" y="650" width="7" height="15" fill="#f08080"/><rect x="2223" y="666" width="7" height="15" fill="#e02020"/><rect x="2231" y="666" width="7" height="15" fill="#228b22"/><rect x="2223" y="682" width="7" height="16" fill="#f08080"/><rect x="2231" y="682" width="7" height="16" fill="#f08080"/><rect x="2223" y="699" width="7" height="15" fill="#e02020"/><rect x="2231" y="699" width="7" height="15" fill="#f08080"/><rect x="2223" y="715" width="7" height="15" fill="#f08080"/><rect x="2231" y="715" width="7" height="15" fill="#f08080"/><rect x="2223" y="731" width="7" height="16" fill="#f08080"/><rect x="2231" y="731" width="7" height="16" fill="#228b22"/><rect x="2223" y="748" width="7" height="15" fill="#f08080"/><rect x="2231" y="748" width="7" height="15" fill="#f08080"/><rect x="2223" y="764" width="7" height="15" fill="#f08080"/><rect x="2231" y="764" width="7" height="15" fill="#f08080"/><rect x="2223" y="780" width="7" height="16" fill="#e02020"/><rect x="2231" y="780" width="7" height="16" fill="#f08080"/><rect x="2223" y="797" width="7" height="15" fill="#f08080"/><rect x="2231" y="797" width="7" height="15" fill="#f08080"/><rect x="2223" y="813" width="7" height="15" fill="#e02020"/><rect x="2231" y="813" width="7" height="15" fill="#f08080"/><rect x="2223" y="829" width="7" height="16" fill="#f08080"/><rect x="2231" y="829" width="7" height="16" fill="#f08080"/><rect x="2223" y="846" width="7" height="15" fill="#f08080"/><rect x="2231" y="846" width="7" height="15" fill="#f08080"/><rect x="2223" y="862" width="7" height="15" fill="#f08080"/><rect x="2231" y="862" width="7" height="15" fill="#f08080"/><rect x="2223" y="878" width="7" height="16" fill="#f08080"/><rect x="2231" y="878" width="7" height="16" fill="#f08080"/><rect x="2223" y="895" width="7" height="15" fill="#f08080"/><rect x="2231" y="895" width="7" height="15" fill="#f08080"/><rect x="2223" y="911" width="7" height="15" fill="#f08080"/><rect x="2231" y="911" width="7" height="15" fill="#f08080"/><rect x="2223" y="927" width="7" height="16" fill="#f08080"/><rect x="2231" y="927" width="7" height="16" fill="#f08080"/><rect x="2223" y="944" width="7" height="15" fill="#f08080"/><rect x="2231" y="944" width="7" height="15" fill="#f08080"/><rect x="2223" y="960" width="7" height="15" fill="#f08080"/><rect x="2231" y="960" width="7" height="15" fill="#f08080"/><rect x="2223" y="976" width="7" height="16" fill="#f08080"/><rect x="2231" y="976" width="7" height="16" fill="#f08080"/><rect x="2223" y="993" width="7" height="15" fill="#f08080"/><rect x="2231" y="993" width="7" height="15" fill="#f08080"/><rect x="2223" y="1009" width="7" height="16" fill="#f08080"/><rect x="2231" y="1009" width="7" height="16" fill="#f08080"/><rect x="2223" y="1026" width="7" height="15" fill="#f08080"/><rect x="2231" y="1026" width="7" height="15" fill="#f08080"/><rect x="2223" y="1042" width="7" height="15" fill="#f08080"/><rect x="2231" y="1042" width="7" height="15" fill="#f08080"/><rect x="2223" y="1058" width="7" height="16" fill="#f08080"/><rect x="2231" y="1058" width="7" height="16" fill="#f08080"/><rect x="2222" y="1075" width="8" height="15" fill="#e02020"/><rect x="2252.75" y="845" width="1.5" height="343" fill="#151515"/><rect x="2245.5" y="894.5" width="16" height="196" fill="#8c8c8c" stroke="#0a0a0a" stroke-width="1"/><rect x="2246" y="895" width="7" height="15" fill="#90ee90"/><rect x="2254" y="895" width="7" height="15" fill="#90ee90"/><rect x="2246" y="911" width="7" height="15" fill="#90ee90"/><rect x="2254" y="911" width="7" height="15" fill="#90ee90"/><rect x="2246" y="927" width="7" height="16" fill="#90ee90"/><rect x="2254" y="927" width="7" height="16" fill="#90ee90"/><rect x="2246" y="944" width="7" height="15" fill="#90ee90"/><rect x="2254" y="944" width="7" height="15" fill="#90ee90"/><rect x="2246" y="960" width="7" height="15" fill="#90ee90"/><rect x="2254" y="960" width="7" height="15" fill="#90ee90"/><rect x="2246" y="976" width="7" height="16" fill="#90ee90"/><rect x="2254" y="976" width="7" height="16" fill="#90ee90"/><rect x="2246" y="993" width="7" height="15" fill="#90ee90"/><rect x="2254" y="993" width="7" height="15" fill="#90ee90"/><rect x="2246" y="1009" width="7" height="16" fill="#90ee90"/><rect x="2254" y="1009" width="7" height="16" fill="#90ee90"/><rect x="2246" y="1026" width="7" height="15" fill="#90ee90"/><rect x="2254" y="1026" width="7" height="15" fill="#90ee90"/><rect x="2246" y="1042" width="7" height="15" fill="#90ee90"/><rect x="2254" y="1042" width="7" height="15" fill="#90ee90"/><rect x="2246" y="1058" width="7" height="16" fill="#90ee90"/><rect x="2254" y="1058" width="7" height="16" fill="#90ee90"/><rect x="2246" y="1075" width="7" height="15" fill="#e02020"/><rect x="2254" y="1075" width="7" height="15" fill="#90ee90"/><rect x="2245" y="862" width="8" height="15" fill="#e02020"/><rect x="2245" y="1107" width="8" height="16" fill="#e02020"/><rect x="2274.75" y="338" width="1.5" height="654" fill="#151515"/><rect x="2267.5" y="485.5" width="16" height="392" fill="#8c8c8c" stroke="#0a0a0a" stroke-width="1"/><rect x="2268" y="486" width="7" height="16" fill="#e02020"/><rect x="2276" y="486" width="7" height="16" fill="#90ee90"/><rect x="2268" y="503" width="7" height="15" fill="#90ee90"/><rect x="2276" y="503" width="7" height="15" fill="#228b22"/><rect x="2268" y="519" width="7" height="15" fill="#90ee90"/><rect x="2276" y="519" width="7" height="15" fill="#90ee90"/><rect x="2268" y="535" width="7" height="16" fill="#e02020"/><rect x="2276" y="535" width="7" height="16" fill="#90ee90"/><rect x="2268" y="552" width="7" height="15" fill="#e02020"/><rect x="2276" y="552" width="7" height="15" fill="#228b22"/><rect x="2268" y="568" width="7" height="15" fill="#90ee90"/><rect x="2276" y="568" width="7" height="15" fill="#90ee90"/><rect x="2268" y="584" width="7" height="16" fill="#90ee90"/><rect x="2276" y="584" width="7" height="16" fill="#90ee90"/><rect x="2268" y="601" width="7" height="15" fill="#90ee90"/><rect x="2276" y="601" width="7" height="15" fill="#90ee90"/><rect x="2268" y="617" width="7" height="15" fill="#90ee90"/><rect x="2276" y="617" width="7" height="15" fill="#90ee90"/><rect x="2268" y="633" width="7" height="16" fill="#90ee90"/><rect x="2276" y="633" width="7" height="16" fill="#90ee90"/><rect x="2268" y="650" width="7" height="15" fill="#90ee90"/><rect x="2276" y="650" width="7" height="15" fill="#90ee90"/><rect x="2268" y="666" width="7" height="15" fill="#90ee90"/><rect x="2276" y="666" width="7" height="15" fill="#90ee90"/><rect x="2268" y="682" width="7" height="16" fill="#90ee90"/><rect x="2276" y="682" width="7" height="16" fill="#90ee90"/><rect x="2268" y="699" width="7" height="15" fill="#90ee90"/><rect x="2276" y="699" width="7" height="15" fill="#90ee90"/><rect x="2268" y="715" width="7" height="15" fill="#90ee90"/><rect x="2276" y="715" width="7" height="15" fill="#90ee90"/><rect x="2268" y="731" width="7" height="16" fill="#90ee90"/><rect x="2276" y="731" width="7" height="16" fill="#90ee90"/><rect x="2268" y="748" width="7" height="15" fill="#90ee90"/><rect x="2276" y="748" width="7" height="15" fill="#228b22"/><rect x="2268" y="764" width="7" height="15" fill="#90ee90"/><rect x="2276" y="764" width="7" height="15" fill="#90ee90"/><rect x="2268" y="780" width="7" height="16" fill="#e02020"/><rect x="2276" y="780" width="7" height="16" fill="#90ee90"/><rect x="2268" y="797" width="7" height="15" fill="#90ee90"/><rect x="2276" y="797" width="7" height="15" fill="#90ee90"/><rect x="2268" y="813" width="7" height="15" fill="#90ee90"/><rect x="2276" y="813" width="7" height="15" fill="#90ee90"/><rect x="2268" y="829" width="7" height="16" fill="#90ee90"/><rect x="2276" y="829" width="7" height="16" fill="#90ee90"/><rect x="2268" y="846" width="7" height="15" fill="#90ee90"/><rect x="2276" y="846" width="7" height="15" fill="#90ee90"/><rect x="2268" y="862" width="7" height="15" fill="#90ee90"/><rect x="2276" y="862" width="7" height="15" fill="#90ee90"/><rect x="2267" y="356" width="8" height="15" fill="#e02020"/><rect x="2276" y="356" width="8" height="15" fill="#228b22"/><rect x="2276" y="388" width="8" height="16" fill="#228b22"/><rect x="2276" y="454" width="8" height="15" fill="#228b22"/><rect x="2276" y="911" width="8" height="15" fill="#228b22"/><rect x="2297.75" y="289" width="1.5" height="458" fill="#151515"/><rect x="2290.5" y="502.5" width="16" height="16" fill="#8c8c8c" stroke="#0a0a0a" stroke-width="1"/><rect x="2291" y="503" width="7" height="15" fill="#90ee90"/><rect x="2299" y="503" width="7" height="15" fill="#90ee90"/><rect x="2299" y="356" width="8" height="15" fill="#228b22"/><rect x="2290" y="388" width="8" height="16" fill="#e02020"/><rect x="2290" y="405" width="8" height="15" fill="#e02020"/><rect x="2299" y="405" width="8" height="15" fill="#228b22"/><rect x="2290" y="454" width="8" height="15" fill="#e02020"/><rect x="2290" y="552" width="8" height="15" fill="#e02020"/><rect x="2319.75" y="355" width="1.5" height="408" fill="#151515"/><rect x="2312.5" y="485.5" width="16" height="49" fill="#8c8c8c" stroke="#0a0a0a" stroke-width="1"/><rect x="2313" y="486" width="7" height="16" fill="#f08080"/><rect x="2321" y="486" width="7" height="16" fill="#228b22"/><rect x="2313" y="503" width="7" height="15" fill="#f08080"/><rect x="2321" y="503" width="7" height="15" fill="#f08080"/><rect x="2313" y="519" width="7" height="15" fill="#f08080"/><rect x="2321" y="519" width="7" height="15" fill="#f08080"/><rect x="2321" y="372" width="8" height="15" fill="#228b22"/><rect x="2321" y="454" width="8" height="15" fill="#228b22"/><rect x="2312" y="552" width="8" height="15" fill="#e02020"/><rect x="2321" y="601" width="8" height="15" fill="#228b22"/><rect x="2321" y="666" width="8" height="15" fill="#228b22"/><rect x="2312" y="715" width="8" height="15" fill="#e02020"/><rect x="2342.75" y="518" width="1.5" height="245" fill="#151515"/><rect x="2335.5" y="518.5" width="16" height="180" fill="#8c8c8c" stroke="#0a0a0a" stroke-width="1"/><rect x="2336" y="519" width="7" height="15" fill="#f08080"/><rect x="2344" y="519" width="7" height="15" fill="#f08080"/><rect x="2336" y="535" width="7" height="16" fill="#f08080"/><rect x="2344" y="535" width="7" height="16" fill="#f08080"/><rect x="2336" y="552" width="7" height="15" fill="#e02020"/><rect x="2344" y="552" width="7" height="15" fill="#f08080"/><rect x="2336" y="568" width="7" height="15" fill="#f08080"/><rect x="2344" y="568" width="7" height="15" fill="#f08080"/><rect x="2336" y="584" width="7" height="16" fill="#f08080"/><rect x="2344" y="584" width="7" height="16" fill="#f08080"/><rect x="2336" y="601" width="7" height="15" fill="#f08080"/><rect x="2344" y="601" width="7" height="15" fill="#f08080"/><rect x="2336" y="617" width="7" height="15" fill="#f08080"/><rect x="2344" y="617" width="7" height="15" fill="#f08080"/><rect x="2336" y="633" width="7" height="16" fill="#f08080"/><rect x="2344" y="633" width="7" height="16" fill="#f08080"/><rect x="2336" y="650" width="7" height="15" fill="#f08080"/><rect x="2344" y="650" width="7" height="15" fill="#f08080"/><rect x="2336" y="666" width="7" height="15" fill="#f08080"/><rect x="2344" y="666" width="7" height="15" fill="#f08080"/><rect x="2336" y="682" width="7" height="16" fill="#f08080"/><rect x="2344" y="682" width="7" height="16" fill="#f08080"/><path d="M218.5,591.5 L243.5,591.5 L231,606 Z" fill="#ff0000" stroke="#111" stroke-width="1.2"/><text x="231" y="585" text-anchor="middle" class="mk">TS</text><path d="M555.5,820.5 L580.5,820.5 L568,835 Z" fill="#ff0000" stroke="#111" stroke-width="1.2"/><text x="568" y="814" text-anchor="middle" class="mk">TS</text><path d="M593.5,739.5 L618.5,739.5 L606,754 Z" fill="#ff0000" stroke="#111" stroke-width="1.2"/><text x="606" y="733" text-anchor="middle" class="mk">DS</text><path d="M691.5,1212.5 L716.5,1212.5 L704,1198 Z" fill="#00ff00" stroke="#111" stroke-width="1.2"/><text x="704" y="1232" text-anchor="middle" class="mk">DL</text><path d="M800.5,852.5 L825.5,852.5 L813,867 Z" fill="#ff0000" stroke="#111" stroke-width="1.2"/><text x="813" y="846" text-anchor="middle" class="mk">TDS</text><path d="M908.5,803.5 L933.5,803.5 L921,818 Z" fill="#ff0000" stroke="#111" stroke-width="1.2"/><text x="921" y="797" text-anchor="middle" class="mk">DS</text><path d="M1043.5,770.5 L1068.5,770.5 L1056,785 Z" fill="#ff0000" stroke="#111" stroke-width="1.2"/><text x="1056" y="764" text-anchor="middle" class="mk">DS</text><path d="M1276.5,574.5 L1301.5,574.5 L1289,589 Z" fill="#ff0000" stroke="#111" stroke-width="1.2"/><text x="1289" y="568" text-anchor="middle" class="mk">TS</text><path d="M1403.5,526.5 L1428.5,526.5 L1416,541 Z" fill="#ff0000" stroke="#111" stroke-width="1.2"/><text x="1416" y="520" text-anchor="middle" class="mk">DS</text><path d="M1452.5,770.5 L1477.5,770.5 L1465,756 Z" fill="#00ff00" stroke="#111" stroke-width="1.2"/><text x="1465" y="790" text-anchor="middle" class="mk">TDL</text><path d="M1606.5,426.5 L1631.5,426.5 L1619,441 Z" fill="#ff0000" stroke="#111" stroke-width="1.2"/><text x="1619" y="420" text-anchor="middle" class="mk">DS</text><path d="M1658.5,639.5 L1683.5,639.5 L1671,625 Z" fill="#00ff00" stroke="#111" stroke-width="1.2"/><text x="1671" y="659" text-anchor="middle" class="mk">DL</text><path d="M1740.5,444.5 L1765.5,444.5 L1753,459 Z" fill="#ff0000" stroke="#111" stroke-width="1.2"/><text x="1753" y="438" text-anchor="middle" class="mk">DS</text><path d="M1861.5,329.5 L1886.5,329.5 L1874,344 Z" fill="#ff0000" stroke="#111" stroke-width="1.2"/><text x="1874" y="323" text-anchor="middle" class="mk">TS</text><path d="M1951.5,329.5 L1976.5,329.5 L1964,344 Z" fill="#ff0000" stroke="#111" stroke-width="1.2"/><text x="1964" y="323" text-anchor="middle" class="mk">TS</text>
 <rect x="2108" y="172" width="100" height="22" fill="#00ffff"/><text x="2113" y="189" class="lb" fill="#000">VWAP 1 095,5</text>
 <rect x="2119" y="679" width="89" height="22" fill="#ffff00"/><text x="2124" y="696" class="lb" fill="#000">POC 1 092,4</text>
 <rect x="2121" y="1138" width="87" height="22" fill="#00ff00"/><text x="2126" y="1155" class="lb" fill="#000">VAL 1 089,6</text>
 <rect x="2139.75" y="172" width="1.5" height="22" fill="#151515"/>
 <rect x="2139.75" y="679" width="1.5" height="19" fill="#151515"/>
 <rect x="2162.75" y="679" width="1.5" height="22" fill="#151515"/>
 <rect x="2162.75" y="1138" width="1.5" height="17" fill="#151515"/>
 <rect x="2284" y="362" width="104" height="2" fill="#ff00ff"/>
 <rect x="2387" y="353" width="89" height="21" fill="#ff00ff"/><text x="2393" y="369" class="lb" fill="#fff">VAH 1 094,4</text>
 <rect x="2330" y="459" width="57" height="2" fill="#ffff00"/>
 <rect x="2386" y="450" width="90" height="21" fill="#ffff00"/><text x="2391" y="466" class="lb" fill="#000">POC 1 093,8</text>
 <rect x="2310" y="671" width="65" height="2" fill="#00ffff"/>
 <rect x="2375" y="662" width="101" height="21" fill="#00ffff"/><text x="2380" y="678" class="lb" fill="#000">VWAP 1 092,5</text>
 <rect x="2308" y="786" width="80" height="2" fill="#00ff00"/>
 <rect x="2388" y="777" width="88" height="21" fill="#00ff00"/><text x="2393" y="793" class="lb" fill="#000">VAL 1 091,8</text>
 <rect x="2475" y="66" width="1.5" height="1250" fill="#14148c"/>
 <rect x="1" y="1314.5" width="2476" height="1.5" fill="#14148c"/>
 <rect x="2476" y="182.2" width="7" height="1.5" fill="#14148c"/><text x="2486" y="191.5" class="pl">1095,5</text><rect x="2476" y="263.9" width="7" height="1.5" fill="#14148c"/><text x="2486" y="273.2" class="pl">1095,0</text><rect x="2476" y="345.6" width="7" height="1.5" fill="#14148c"/><text x="2486" y="354.9" class="pl">1094,5</text><rect x="2476" y="427.4" width="7" height="1.5" fill="#14148c"/><text x="2486" y="436.6" class="pl">1094,0</text><rect x="2476" y="509.1" width="7" height="1.5" fill="#14148c"/><text x="2486" y="518.3" class="pl">1093,5</text><rect x="2476" y="590.8" width="7" height="1.5" fill="#14148c"/><text x="2486" y="600.0" class="pl">1093,0</text><rect x="2476" y="672.5" width="7" height="1.5" fill="#14148c"/><text x="2486" y="681.7" class="pl">1092,5</text><rect x="2476" y="754.1" width="7" height="1.5" fill="#14148c"/><text x="2486" y="763.4" class="pl">1092,0</text><rect x="2476" y="835.9" width="7" height="1.5" fill="#14148c"/><text x="2486" y="845.1" class="pl">1091,5</text><rect x="2476" y="917.6" width="7" height="1.5" fill="#14148c"/><text x="2486" y="926.8" class="pl">1091,0</text><rect x="2476" y="999.2" width="7" height="1.5" fill="#14148c"/><text x="2486" y="1008.5" class="pl">1090,5</text><rect x="2476" y="1081.0" width="7" height="1.5" fill="#14148c"/><text x="2486" y="1090.2" class="pl">1090,0</text><rect x="2476" y="1162.7" width="7" height="1.5" fill="#14148c"/><text x="2486" y="1171.9" class="pl">1089,5</text><rect x="2476" y="1244.4" width="7" height="1.5" fill="#14148c"/><text x="2486" y="1253.6" class="pl">1089,0</text><rect x="2476" y="100.5" width="7" height="1.5" fill="#14148c"/><text x="2486" y="109.8" class="pl">1096,0</text>
 <rect x="24.25" y="1315" width="1.5" height="9" fill="#14148c"/><text x="25" y="1340" text-anchor="middle" class="tl">21:46</text><rect x="114.25" y="1315" width="1.5" height="9" fill="#14148c"/><text x="115" y="1340" text-anchor="middle" class="tl">21:54</text><rect x="204.25" y="1315" width="1.5" height="9" fill="#14148c"/><text x="205" y="1340" text-anchor="middle" class="tl">22:00</text><rect x="294.25" y="1315" width="1.5" height="9" fill="#14148c"/><text x="295" y="1340" text-anchor="middle" class="tl">22:07</text><rect x="384.25" y="1315" width="1.5" height="9" fill="#14148c"/><text x="385" y="1340" text-anchor="middle" class="tl">22:11</text><rect x="474.25" y="1315" width="1.5" height="9" fill="#14148c"/><text x="475" y="1340" text-anchor="middle" class="tl">22:16</text><rect x="564.25" y="1315" width="1.5" height="9" fill="#14148c"/><text x="565" y="1340" text-anchor="middle" class="tl">22:23</text><rect x="654.25" y="1315" width="1.5" height="9" fill="#14148c"/><text x="655" y="1340" text-anchor="middle" class="tl">22:32</text><rect x="744.25" y="1315" width="1.5" height="9" fill="#14148c"/><text x="745" y="1340" text-anchor="middle" class="tl">22:36</text><rect x="834.25" y="1315" width="1.5" height="9" fill="#14148c"/><text x="835" y="1340" text-anchor="middle" class="tl">22:42</text><rect x="924.25" y="1315" width="1.5" height="9" fill="#14148c"/><text x="925" y="1340" text-anchor="middle" class="tl">22:46</text><rect x="1014.25" y="1315" width="1.5" height="9" fill="#14148c"/><text x="1015" y="1340" text-anchor="middle" class="tl">22:49</text><rect x="1104.25" y="1315" width="1.5" height="9" fill="#14148c"/><text x="1105" y="1340" text-anchor="middle" class="tl">22:51</text><rect x="1194.25" y="1315" width="1.5" height="9" fill="#14148c"/><text x="1195" y="1340" text-anchor="middle" class="tl">22:54</text><rect x="1284.25" y="1315" width="1.5" height="9" fill="#14148c"/><text x="1285" y="1340" text-anchor="middle" class="tl">22:55</text><rect x="1374.25" y="1315" width="1.5" height="9" fill="#14148c"/><text x="1375" y="1340" text-anchor="middle" class="tl">22:56</text><rect x="1464.25" y="1315" width="1.5" height="9" fill="#14148c"/><text x="1465" y="1340" text-anchor="middle" class="tl">22:57</text><rect x="1554.25" y="1315" width="1.5" height="9" fill="#14148c"/><text x="1555" y="1340" text-anchor="middle" class="tl">22:58</text><rect x="1644.25" y="1315" width="1.5" height="9" fill="#14148c"/><text x="1645" y="1340" text-anchor="middle" class="tl">22:59</text><rect x="1734.25" y="1315" width="1.5" height="9" fill="#14148c"/><text x="1735" y="1340" text-anchor="middle" class="tl">22:59</text><rect x="1824.25" y="1315" width="1.5" height="9" fill="#14148c"/><text x="1825" y="1340" text-anchor="middle" class="tl">23:00</text><rect x="1914.25" y="1315" width="1.5" height="9" fill="#14148c"/><text x="1915" y="1340" text-anchor="middle" class="tl">23:01</text><rect x="2004.25" y="1315" width="1.5" height="9" fill="#14148c"/><text x="2005" y="1340" text-anchor="middle" class="tl">23:05</text><rect x="2095.25" y="1315" width="1.5" height="9" fill="#14148c"/><rect x="2140.25" y="1315" width="1.5" height="9" fill="#14148c"/><text x="2141" y="1340" text-anchor="middle" class="tl">4/9</text><rect x="2207.25" y="1315" width="1.5" height="9" fill="#14148c"/><text x="2208" y="1340" text-anchor="middle" class="tl">4/11</text><rect x="2320.25" y="1315" width="1.5" height="9" fill="#14148c"/><text x="2321" y="1340" text-anchor="middle" class="tl">10:00</text>
 <path d="M2477,688.5 L2488,677.5 H2546 V700 H2488 Z" fill="#fff" stroke="#14148c" stroke-width="1.5"/>
 <text x="2491" y="695.5" class="lb" fill="#14148c" style="font-size:15px;letter-spacing:1.2px">1092,4</text>
 <text x="4.5" y="84" style="font:18.5px Liberation Sans,sans-serif" fill="#16168a" stroke="#16168a" stroke-width="0.6">GZT_PrintProfiler</text>
 <text x="4" y="1312" style="font:14px Liberation Sans,sans-serif" fill="#2a2a9a">© 2016 NinjaTrader, LLC</text>
 <defs><filter id="sh" x="-10%" y="-50%" width="120%" height="200%"><feGaussianBlur stdDeviation="2"/></filter></defs>
 <g transform="translate(1433,966) rotate(-22.6)" style="font:italic 26px Liberation Sans,sans-serif">
  <text x="3" y="4" fill="#000" opacity="0.45" filter="url(#sh)" textLength="446" lengthAdjust="spacingAndGlyphs">www.trading-software-collection.com</text>
  <text x="0" y="0" fill="#ff0000" stroke="#fff" stroke-width="3.5" paint-order="stroke" textLength="446" lengthAdjust="spacingAndGlyphs">www.trading-software-collection.com</text>
 </g>
 <g transform="translate(1421,1009) rotate(-22.9)" style="font:italic 26px Liberation Sans,sans-serif">
  <text x="3" y="4" fill="#000" opacity="0.45" filter="url(#sh)" textLength="508" lengthAdjust="spacingAndGlyphs">andreybbrv@gmail.com, Skype: andreybbrv</text>
  <text x="0" y="0" fill="#ff0000" stroke="#fff" stroke-width="3.5" paint-order="stroke" textLength="508" lengthAdjust="spacingAndGlyphs">andreybbrv@gmail.com, Skype: andreybbrv</text>
 </g>
 <rect x="2530.5" y="61.5" width="28" height="28" fill="#ececec" stroke="#c8d0dc" stroke-width="1"/>
 <path d="M2541,70 H2550 L2545.5,75 Z" fill="#000"/>
 <rect x="2493" y="66.5" width="47" height="47" fill="#e6e6e6" stroke="#404040" stroke-width="1.5"/>
 <path d="M2506,75 H2527 L2516.5,84 Z M2506,84 H2527 L2516.5,93 Z M2504,93 H2529 L2516.5,104 Z" fill="#d84a1c"/>
</svg>
<div id="menu" class="abs"><div id="gut" class="abs"></div><div class="mi" style="top:5.0px">Print</div><div class="ar" style="top:10.0px"></div><div class="mi" style="top:32.5px">Zones</div><div class="ar" style="top:37.5px"></div><div class="mi" style="top:59.9px">Curve</div><div class="ar" style="top:64.9px"></div><div class="mi" style="top:87.4px">Market Structure</div><div class="ar" style="top:92.4px"></div><div class="mi" style="top:114.8px">Profile (Bar)</div><div class="ar" style="top:119.8px"></div><div class="mi" style="top:142.3px">Profile (Auto)</div><div class="ar" style="top:147.3px"></div><div class="mi" style="top:169.8px">Profile (Composite) Settings</div><div class="ar" style="top:174.8px"></div><div class="mi" style="top:197.2px">Profile (Composite) Visual</div><div class="ar" style="top:202.2px"></div><div class="mi" style="top:224.7px">Profile (Composite) Developing</div><div class="ar" style="top:229.7px"></div><div class="mi" style="top:252.1px">Profile (Manual)</div><div class="ar" style="top:257.1px"></div><div class="mi" style="top:279.6px">Inventory</div><div class="ar" style="top:284.6px"></div><div class="mi" style="top:307.1px">Volume Averages Set 1</div><div class="ar" style="top:312.1px"></div><div class="mi" style="top:334.5px">Volume Averages Set 2</div><div class="ar" style="top:339.5px"></div><div class="mi" style="top:362.0px">Avg Stop Loss Calculators</div><div class="ar" style="top:367.0px"></div></div>
<div class="abs" style="left:542px;top:55px;width:109px;height:3px;background:#fbfbfb"></div>
<div id="sb" class="abs">
 <svg class="abs" style="left:6px;top:10px" width="10" height="12"><path d="M6.5 1.5 L2.5 5.5 L6.5 9.5" stroke="#606060" stroke-width="2.2" fill="none"/></svg>
 <div class="abs" style="left:2258px;top:1px;width:282px;height:27px;background:#cdcdcd"></div>
 <svg class="abs" style="left:2544px;top:10px" width="10" height="12"><path d="M2.5 1.5 L6.5 5.5 L2.5 9.5" stroke="#606060" stroke-width="2.2" fill="none"/></svg>
</div>
</body></html>
